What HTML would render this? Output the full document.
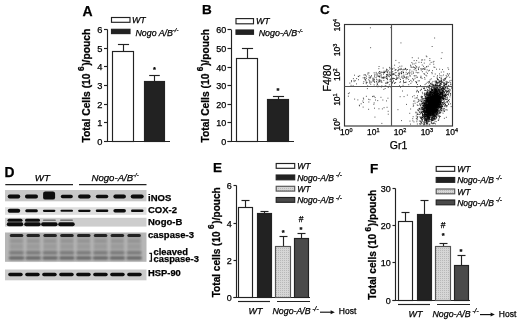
<!DOCTYPE html>
<html><head><meta charset="utf-8"><title>Figure</title>
<style>
html,body{margin:0;padding:0;background:#fff;}
body{width:520px;height:321px;overflow:hidden;}
svg{display:block;filter:blur(0.35px);}
text{font-family:"Liberation Sans",sans-serif;fill:#000;stroke:#000;stroke-width:0.25px;}
line,rect[stroke]{stroke-width:1.15;}
.b{font-weight:bold;}
.i{font-style:italic;}
.ax{stroke:#222;stroke-width:1;fill:none;}
</style></head><body>
<svg width="520" height="321" viewBox="0 0 520 321">
<defs><filter id="bl" x="-10%" y="-30%" width="120%" height="160%"><feGaussianBlur stdDeviation="0.6"/></filter><filter id="bl2" x="-10%" y="-30%" width="120%" height="160%"><feGaussianBlur stdDeviation="1.1"/></filter><pattern id="dots" width="2" height="2" patternUnits="userSpaceOnUse"><rect width="2" height="2" fill="#d6d6d6"/><rect width="1" height="1" fill="#b8b8b8"/></pattern></defs>
<rect width="520" height="321" fill="#fff"/>
<text x="82.5" y="15.5" font-size="14" text-anchor="start" class="b">A</text>
<rect x="111.5" y="17.5" width="18.5" height="4.8" fill="#fff" stroke="#222" stroke-width="1"/>
<rect x="111.5" y="29.3" width="18.5" height="4.3" fill="#222" stroke="#222" stroke-width="1"/>
<text x="132" y="22.9" font-size="8.8" text-anchor="start" class="i">WT</text>
<text x="135.5" y="35.8" font-size="8.8" text-anchor="start" class="i">Nogo A/B<tspan dy="-3.5" font-size="6">-/-</tspan></text>
<line x1="107.5" y1="29.5" x2="107.5" y2="141.5" stroke="#222" stroke-width="1"/>
<line x1="104" y1="141.5" x2="170" y2="141.5" stroke="#222" stroke-width="1"/>
<line x1="104" y1="141.5" x2="107.5" y2="141.5" stroke="#222" stroke-width="1"/>
<text x="102.5" y="145.0" font-size="9.3" text-anchor="end">0</text>
<line x1="104" y1="122.5" x2="107.5" y2="122.5" stroke="#222" stroke-width="1"/>
<text x="102.5" y="126.0" font-size="9.3" text-anchor="end">1</text>
<line x1="104" y1="104.5" x2="107.5" y2="104.5" stroke="#222" stroke-width="1"/>
<text x="102.5" y="108.0" font-size="9.3" text-anchor="end">2</text>
<line x1="104" y1="85.5" x2="107.5" y2="85.5" stroke="#222" stroke-width="1"/>
<text x="102.5" y="89.0" font-size="9.3" text-anchor="end">3</text>
<line x1="104" y1="66.5" x2="107.5" y2="66.5" stroke="#222" stroke-width="1"/>
<text x="102.5" y="70.0" font-size="9.3" text-anchor="end">4</text>
<line x1="104" y1="48.5" x2="107.5" y2="48.5" stroke="#222" stroke-width="1"/>
<text x="102.5" y="52.0" font-size="9.3" text-anchor="end">5</text>
<line x1="104" y1="29.5" x2="107.5" y2="29.5" stroke="#222" stroke-width="1"/>
<text x="102.5" y="33.0" font-size="9.3" text-anchor="end">6</text>
<line x1="123.5" y1="44.5" x2="123.5" y2="51.5" stroke="#222" stroke-width="1"/>
<line x1="117.935" y1="44.5" x2="129.065" y2="44.5" stroke="#222" stroke-width="1"/>
<rect x="112.5" y="51.5" width="21.0" height="90.0" fill="#fff" stroke="#222" stroke-width="1"/>
<line x1="154.5" y1="75.5" x2="154.5" y2="81.5" stroke="#222" stroke-width="1"/>
<line x1="149.2" y1="75.5" x2="159.8" y2="75.5" stroke="#222" stroke-width="1"/>
<rect x="144.5" y="81.5" width="20.0" height="60.0" fill="#222" stroke="#222" stroke-width="1"/>
<text x="154.4" y="72.3" font-size="7.5" text-anchor="middle" class="b">*</text>
<text transform="translate(89.6,142.5) rotate(-90)" font-size="10.3" class="b">Total Cells (10<tspan dx="2.4" dy="-5.5" font-size="8.3">6</tspan><tspan dx="0.6" dy="5.5">)/pouch</tspan></text>
<text x="202" y="14.3" font-size="13.5" text-anchor="start" class="b">B</text>
<rect x="236" y="18.6" width="17.5" height="5.2" fill="#fff" stroke="#222" stroke-width="1"/>
<rect x="236" y="30" width="17.5" height="4.3" fill="#222" stroke="#222" stroke-width="1"/>
<text x="256" y="24.3" font-size="8.8" text-anchor="start" class="i">WT</text>
<text x="258.7" y="36.3" font-size="8.9" text-anchor="start" class="i">Nogo-A/B<tspan dy="-3.5" font-size="6">-/-</tspan></text>
<line x1="231.5" y1="30" x2="231.5" y2="141.5" stroke="#222" stroke-width="1"/>
<line x1="227.5" y1="141.5" x2="294" y2="141.5" stroke="#222" stroke-width="1"/>
<line x1="227.5" y1="141.5" x2="231.5" y2="141.5" stroke="#222" stroke-width="1"/>
<text x="226.3" y="144.9" font-size="9.0" text-anchor="end">0</text>
<line x1="227.5" y1="122.5" x2="231.5" y2="122.5" stroke="#222" stroke-width="1"/>
<text x="226.3" y="125.9" font-size="9.0" text-anchor="end">10</text>
<line x1="227.5" y1="104.5" x2="231.5" y2="104.5" stroke="#222" stroke-width="1"/>
<text x="226.3" y="107.9" font-size="9.0" text-anchor="end">20</text>
<line x1="227.5" y1="85.5" x2="231.5" y2="85.5" stroke="#222" stroke-width="1"/>
<text x="226.3" y="88.9" font-size="9.0" text-anchor="end">30</text>
<line x1="227.5" y1="67.5" x2="231.5" y2="67.5" stroke="#222" stroke-width="1"/>
<text x="226.3" y="70.9" font-size="9.0" text-anchor="end">40</text>
<line x1="227.5" y1="48.5" x2="231.5" y2="48.5" stroke="#222" stroke-width="1"/>
<text x="226.3" y="51.9" font-size="9.0" text-anchor="end">50</text>
<line x1="227.5" y1="29.5" x2="231.5" y2="29.5" stroke="#222" stroke-width="1"/>
<text x="226.3" y="32.9" font-size="9.0" text-anchor="end">60</text>
<line x1="247.5" y1="48.5" x2="247.5" y2="58.5" stroke="#222" stroke-width="1"/>
<line x1="241.935" y1="48.5" x2="253.065" y2="48.5" stroke="#222" stroke-width="1"/>
<rect x="236.5" y="58.5" width="21.0" height="83.0" fill="#fff" stroke="#222" stroke-width="1"/>
<line x1="278.5" y1="96.5" x2="278.5" y2="99.5" stroke="#222" stroke-width="1"/>
<line x1="272.935" y1="96.5" x2="284.065" y2="96.5" stroke="#222" stroke-width="1"/>
<rect x="267.5" y="99.5" width="21.0" height="42.0" fill="#222" stroke="#222" stroke-width="1"/>
<text x="278" y="92.9" font-size="7.5" text-anchor="middle" class="b">*</text>
<text transform="translate(208.5,142.4) rotate(-90)" font-size="10.25" class="b">Total Cells (10<tspan dx="2.4" dy="-5.5" font-size="8.3">6</tspan><tspan dx="0.6" dy="5.5">)/pouch</tspan></text>
<text x="320" y="14.3" font-size="13.5" text-anchor="start" class="b">C</text>
<path d="M430.9 108.0h.9M431.1 102.7h.9M428.1 105.6h.9M436.7 103.1h.9M436.4 102.3h.9M433.7 103.9h.9M425.0 114.6h.9M434.1 105.5h.9M424.9 98.4h.9M428.3 103.9h.9M433.3 102.8h.9M434.2 98.3h.9M433.3 105.5h.9M429.2 116.8h.9M434.3 109.7h.9M429.4 101.3h.9M430.6 104.4h.9M434.7 103.6h.9M430.1 99.4h.9M429.8 113.3h.9M428.6 108.1h.9M433.8 93.3h.9M432.2 112.0h.9M423.5 108.3h.9M431.6 99.2h.9M434.1 102.0h.9M425.8 113.8h.9M434.8 107.8h.9M438.1 101.7h.9M432.5 95.5h.9M434.6 98.2h.9M430.1 97.5h.9M427.9 103.7h.9M437.4 87.2h.9M425.9 110.1h.9M438.1 103.1h.9M424.0 94.2h.9M433.5 98.3h.9M427.3 113.6h.9M436.6 101.5h.9M433.0 105.9h.9M438.7 102.8h.9M434.2 105.8h.9M425.4 117.0h.9M436.0 104.3h.9M423.7 106.3h.9M435.5 90.0h.9M431.2 111.0h.9M426.5 118.2h.9M434.3 101.3h.9M433.4 107.0h.9M432.5 110.8h.9M429.2 103.5h.9M436.4 100.9h.9M428.3 112.7h.9M438.2 96.6h.9M426.2 107.5h.9M431.4 102.6h.9M437.9 93.2h.9M437.3 92.1h.9M428.7 110.4h.9M436.7 105.8h.9M433.4 103.8h.9M432.6 107.1h.9M431.3 106.3h.9M434.4 102.2h.9M435.2 105.1h.9M440.4 99.7h.9M430.2 103.0h.9M431.9 109.8h.9M430.6 107.5h.9M439.7 82.2h.9M427.3 109.1h.9M433.7 104.2h.9M430.2 109.5h.9M433.2 99.8h.9M442.2 98.6h.9M429.7 105.1h.9M431.1 104.3h.9M420.5 109.5h.9M436.2 93.5h.9M431.7 110.2h.9M435.6 110.6h.9M424.9 107.2h.9M430.6 109.0h.9M436.6 83.8h.9M436.6 91.5h.9M434.9 92.5h.9M432.7 110.9h.9M431.4 105.7h.9M435.3 102.4h.9M431.6 113.9h.9M436.4 98.9h.9M443.5 88.2h.9M435.8 99.5h.9M432.6 108.0h.9M432.9 107.3h.9M425.6 99.4h.9M434.6 96.0h.9M427.7 98.0h.9M437.3 104.7h.9M438.2 93.5h.9M432.0 96.9h.9M435.2 111.5h.9M428.3 116.6h.9M436.1 99.8h.9M423.7 119.0h.9M431.6 100.5h.9M433.7 105.3h.9M438.3 92.9h.9M436.8 109.7h.9M438.1 98.3h.9M428.9 112.7h.9M432.5 104.4h.9M438.0 97.9h.9M422.4 108.8h.9M424.2 115.0h.9M433.3 99.2h.9M432.0 109.2h.9M432.3 112.0h.9M431.7 110.7h.9M438.3 109.4h.9M429.2 111.6h.9M424.1 103.1h.9M423.8 116.9h.9M426.8 107.8h.9M431.2 104.4h.9M429.5 107.3h.9M439.5 98.6h.9M434.2 108.6h.9M431.2 96.7h.9M429.7 112.5h.9M425.1 105.4h.9M436.2 105.8h.9M432.0 109.0h.9M432.7 96.1h.9M425.4 104.9h.9M435.9 97.6h.9M428.2 102.0h.9M425.6 108.1h.9M427.0 110.0h.9M422.1 113.5h.9M429.3 93.9h.9M435.0 100.0h.9M422.6 105.6h.9M433.2 100.2h.9M435.3 106.2h.9M434.8 103.9h.9M437.6 103.9h.9M433.9 89.6h.9M435.8 109.4h.9M430.8 102.0h.9M440.1 86.9h.9M434.0 117.7h.9M428.1 111.2h.9M439.9 97.3h.9M434.4 107.9h.9M428.2 106.3h.9M433.2 108.2h.9M431.9 102.9h.9M427.7 105.0h.9M435.7 101.8h.9M428.4 101.4h.9M443.2 102.7h.9M434.7 85.8h.9M434.6 105.0h.9M439.1 101.4h.9M431.7 107.5h.9M423.8 116.6h.9M433.4 98.6h.9M437.6 111.1h.9M426.1 104.3h.9M433.2 104.2h.9M430.3 99.2h.9M440.9 103.8h.9M427.0 99.4h.9M439.2 104.8h.9M439.6 103.3h.9M428.3 108.4h.9M422.9 106.1h.9M431.8 107.5h.9M428.9 105.5h.9M433.9 104.9h.9M434.7 103.3h.9M430.6 110.0h.9M432.2 98.7h.9M429.4 106.0h.9M431.5 105.3h.9M432.0 105.1h.9M431.4 96.6h.9M433.8 109.3h.9M433.8 101.4h.9M433.9 96.6h.9M424.0 110.3h.9M428.1 111.6h.9M427.4 91.0h.9M427.6 117.1h.9M430.4 96.6h.9M428.8 109.7h.9M434.1 103.5h.9M438.2 103.7h.9M431.9 107.8h.9M438.9 104.9h.9M436.3 94.0h.9M431.4 109.0h.9M430.8 111.6h.9M434.5 107.8h.9M431.1 120.6h.9M437.2 98.7h.9M432.4 119.9h.9M430.6 110.5h.9M436.1 101.0h.9M427.1 108.8h.9M433.5 109.9h.9M435.3 101.7h.9M435.6 104.7h.9M432.9 103.7h.9M431.0 109.1h.9M427.6 103.4h.9M432.0 94.8h.9M430.2 92.8h.9M429.1 109.7h.9M434.4 101.9h.9M431.0 95.9h.9M439.7 101.5h.9M436.6 95.0h.9M431.2 93.2h.9M435.3 107.4h.9M424.0 109.7h.9M434.6 91.0h.9M424.3 103.1h.9M429.4 97.2h.9M432.1 105.5h.9M434.7 106.4h.9M438.3 106.5h.9M426.5 105.0h.9M427.5 100.6h.9M431.7 104.3h.9M434.1 92.5h.9M426.8 107.8h.9M431.2 102.7h.9M431.7 99.4h.9M434.9 104.0h.9M431.6 100.1h.9M431.3 87.5h.9M427.9 107.3h.9M425.7 110.0h.9M432.6 94.9h.9M430.9 102.8h.9M433.9 106.4h.9M431.8 98.8h.9M431.4 104.0h.9M435.1 103.5h.9M429.0 97.8h.9M430.4 100.5h.9M427.3 106.8h.9M429.9 106.2h.9M434.2 99.8h.9M441.8 94.7h.9M436.6 101.3h.9M436.7 85.6h.9M428.8 107.9h.9M434.5 116.7h.9M433.4 111.0h.9M435.2 107.5h.9M434.1 101.4h.9M434.1 95.7h.9M437.0 93.9h.9M433.0 116.5h.9M431.1 104.8h.9M436.9 100.5h.9M428.6 108.2h.9M434.4 106.6h.9M428.8 117.4h.9M439.0 98.9h.9M433.1 100.5h.9M437.9 95.1h.9M434.8 98.9h.9M429.1 110.7h.9M437.6 99.7h.9M429.2 111.2h.9M431.8 106.1h.9M438.4 106.3h.9M429.8 119.9h.9M432.0 108.9h.9M429.3 105.8h.9M424.7 120.7h.9M437.7 92.1h.9M425.7 98.6h.9M436.9 97.4h.9M431.7 102.2h.9M431.5 97.6h.9M432.1 94.9h.9M431.7 106.2h.9M434.0 101.1h.9M428.2 107.8h.9M430.0 115.3h.9M435.2 100.9h.9M430.0 101.1h.9M428.1 104.7h.9M433.2 106.3h.9M434.4 115.3h.9M429.0 106.3h.9M443.7 83.5h.9M429.8 106.7h.9M432.6 106.1h.9M431.0 107.0h.9M432.2 108.7h.9M424.1 104.4h.9M432.0 97.6h.9M427.6 111.2h.9M429.3 110.0h.9M435.1 103.6h.9M434.1 101.7h.9M426.1 108.3h.9M433.9 99.3h.9M431.6 109.0h.9M428.3 110.8h.9M439.8 94.7h.9M432.6 102.6h.9M438.5 101.1h.9M435.8 96.9h.9M431.9 104.0h.9M424.5 118.6h.9M435.8 90.2h.9M435.1 100.8h.9M433.9 104.9h.9M425.7 107.4h.9M438.3 95.7h.9M427.7 98.7h.9M426.9 109.9h.9M439.1 101.4h.9M433.0 117.2h.9M429.8 101.4h.9M434.2 105.8h.9M427.7 99.9h.9M433.2 104.6h.9M426.5 106.9h.9M429.7 108.6h.9M431.5 103.8h.9M430.5 111.7h.9M437.8 97.3h.9M435.6 96.6h.9M432.3 108.5h.9M438.4 96.8h.9M431.7 105.5h.9M425.7 108.8h.9M429.2 108.5h.9M427.3 95.2h.9M432.2 105.5h.9M429.7 111.3h.9M430.9 101.1h.9M434.0 92.7h.9M429.2 106.0h.9M435.6 100.3h.9M433.3 98.9h.9M433.3 113.4h.9M429.1 121.0h.9M429.3 106.1h.9M432.7 109.9h.9M426.8 94.8h.9M434.5 107.1h.9M434.6 118.5h.9M432.9 104.9h.9M435.9 103.4h.9M439.0 91.0h.9M430.4 83.6h.9M435.4 99.1h.9M435.9 114.6h.9M432.0 102.4h.9M429.9 100.3h.9M429.4 110.0h.9M432.2 104.3h.9M431.3 110.3h.9M434.1 101.6h.9M434.8 101.0h.9M427.2 116.7h.9M434.0 96.6h.9M436.5 102.8h.9M425.4 119.0h.9M433.4 108.5h.9M432.8 102.4h.9M425.5 115.0h.9M432.1 102.1h.9M433.5 103.4h.9M434.8 99.6h.9M431.8 90.7h.9M430.2 109.6h.9M437.6 97.5h.9M431.5 114.3h.9M430.6 109.6h.9M439.0 99.0h.9M437.2 95.7h.9M432.9 102.9h.9M432.5 110.7h.9M442.0 92.3h.9M429.6 108.9h.9M427.6 110.4h.9M434.4 100.5h.9M434.2 92.6h.9M435.2 91.9h.9M429.1 102.7h.9M430.3 110.6h.9M432.3 101.3h.9M434.3 112.2h.9M432.0 106.3h.9M437.2 101.8h.9M426.6 123.6h.9M441.3 84.6h.9M431.8 106.7h.9M436.1 105.1h.9M430.9 98.3h.9M432.4 110.1h.9M427.4 101.0h.9M431.9 92.0h.9M430.9 102.1h.9M433.9 98.2h.9M428.3 104.3h.9M431.8 100.0h.9M432.1 108.7h.9M437.0 110.9h.9M428.7 103.8h.9M421.6 123.7h.9M429.0 106.1h.9M434.2 93.9h.9M433.9 102.4h.9M424.3 111.6h.9M437.0 88.6h.9M435.4 102.8h.9M434.0 105.3h.9M437.5 98.5h.9M435.7 98.7h.9M435.1 96.6h.9M431.5 115.2h.9M433.9 101.6h.9M427.2 102.7h.9M432.8 109.3h.9M433.8 105.9h.9M431.8 112.6h.9M430.4 101.8h.9M435.7 101.6h.9M430.8 101.3h.9M430.9 108.7h.9M433.5 95.3h.9M433.8 103.8h.9M427.8 112.0h.9M430.8 102.8h.9M435.3 109.7h.9M429.1 108.9h.9M428.3 121.2h.9M429.9 113.0h.9M429.3 111.1h.9M441.3 81.1h.9M430.2 108.5h.9M431.6 100.1h.9M441.0 97.7h.9M425.1 114.5h.9M424.8 116.6h.9M429.6 106.7h.9M437.3 100.8h.9M426.2 97.8h.9M437.0 104.9h.9M428.6 111.9h.9M434.1 106.5h.9M422.5 109.2h.9M435.8 105.7h.9M435.7 85.9h.9M432.7 106.5h.9M442.7 90.0h.9M430.6 105.3h.9M435.7 98.4h.9M436.8 95.5h.9M433.1 99.9h.9M432.7 99.2h.9M425.3 115.9h.9M433.3 99.6h.9M432.8 109.6h.9M427.9 106.4h.9M434.3 105.6h.9M430.6 91.9h.9M437.2 102.1h.9M432.1 102.2h.9M433.1 100.5h.9M427.7 102.6h.9M429.5 102.1h.9M427.1 111.6h.9M426.5 112.2h.9M427.7 109.4h.9M437.8 100.9h.9M428.9 106.6h.9M432.6 92.7h.9M429.4 106.9h.9M430.0 106.0h.9M435.1 106.5h.9M435.8 104.8h.9M430.8 104.8h.9M430.9 102.9h.9M431.2 93.8h.9M430.6 104.9h.9M427.9 106.9h.9M434.2 101.3h.9M440.7 81.2h.9M431.1 93.2h.9M436.1 117.5h.9M421.5 112.7h.9M434.2 100.5h.9M434.3 88.2h.9M435.6 103.6h.9M432.1 100.3h.9M434.7 99.0h.9M432.9 100.1h.9M422.6 110.9h.9M432.8 108.1h.9M428.3 106.6h.9M434.6 103.0h.9M437.2 112.5h.9M428.2 94.9h.9M435.6 110.9h.9M435.9 106.2h.9M429.4 101.5h.9M435.7 95.5h.9M424.4 103.5h.9M442.5 108.2h.9M429.1 101.6h.9M433.0 98.6h.9M437.5 99.4h.9M427.4 115.6h.9M429.6 107.2h.9M431.9 102.1h.9M433.4 98.6h.9M424.3 96.0h.9M426.7 103.2h.9M431.9 104.4h.9M434.3 103.0h.9M428.7 102.1h.9M423.1 109.6h.9M434.0 105.8h.9M431.5 103.3h.9M435.9 101.1h.9M435.1 105.3h.9M432.9 111.5h.9M429.6 103.6h.9M428.6 101.6h.9M438.5 110.1h.9M432.1 107.5h.9M436.9 105.3h.9M437.1 92.3h.9M429.3 108.8h.9M438.0 100.1h.9M428.4 104.5h.9M429.2 100.7h.9M438.3 95.4h.9M432.1 117.5h.9M437.0 102.4h.9M429.4 108.5h.9M438.8 102.8h.9M437.3 100.6h.9M434.2 101.1h.9M433.8 110.8h.9M426.0 108.1h.9M433.0 99.7h.9M430.7 109.9h.9M440.4 101.6h.9M433.4 93.3h.9M440.1 98.4h.9M431.9 97.1h.9M431.8 97.3h.9M432.3 106.7h.9M432.1 105.6h.9M428.4 115.6h.9M429.3 94.7h.9M431.2 99.8h.9M427.8 105.0h.9M433.2 95.7h.9M431.4 113.4h.9M434.9 100.9h.9M432.5 102.8h.9M431.8 108.7h.9M431.6 89.3h.9M431.9 98.5h.9M434.7 98.1h.9M432.6 117.1h.9M427.6 100.3h.9M426.1 93.5h.9M424.1 112.2h.9M429.3 94.3h.9M425.8 112.5h.9M428.7 104.1h.9M433.4 111.4h.9M440.2 104.3h.9M432.6 104.7h.9M439.6 107.3h.9M430.7 107.8h.9M433.2 103.4h.9M429.9 97.3h.9M429.8 96.0h.9M437.1 103.5h.9M426.9 116.5h.9M435.7 89.3h.9M439.7 103.3h.9M440.7 89.8h.9M434.2 105.0h.9M432.8 104.4h.9M436.4 91.3h.9M426.8 99.2h.9M429.7 102.0h.9M433.5 104.5h.9M432.1 99.7h.9M430.1 111.3h.9M435.2 102.2h.9M430.6 114.7h.9M429.5 109.9h.9M436.8 98.7h.9M435.5 94.4h.9M436.3 102.1h.9M425.3 113.2h.9M428.3 114.8h.9M429.1 105.1h.9M433.2 101.0h.9M433.1 99.7h.9M434.8 101.9h.9M432.9 86.1h.9M436.9 100.5h.9M424.5 110.2h.9M434.0 109.2h.9M427.5 117.1h.9M431.3 119.5h.9M431.4 108.7h.9M430.5 98.2h.9M436.6 106.2h.9M438.5 104.5h.9M429.6 95.4h.9M429.3 101.8h.9M428.6 110.2h.9M433.4 101.3h.9M432.7 102.5h.9M432.9 108.0h.9M436.0 96.7h.9M425.7 117.7h.9M432.5 110.6h.9M425.1 107.1h.9M432.1 94.9h.9M429.8 110.2h.9M436.5 110.6h.9M428.4 98.0h.9M434.2 108.2h.9M432.8 95.3h.9M435.3 106.5h.9M434.3 99.2h.9M433.3 108.0h.9M429.7 94.2h.9M433.4 106.0h.9M432.1 109.5h.9M429.5 105.3h.9M430.7 108.5h.9M438.7 97.4h.9M440.6 107.1h.9M435.3 105.2h.9M439.4 97.3h.9M431.5 97.7h.9M434.0 110.9h.9M434.2 105.0h.9M431.2 105.7h.9M426.0 115.0h.9M430.3 98.4h.9M428.8 101.2h.9M435.6 107.9h.9M426.3 114.1h.9M435.7 97.6h.9M425.8 104.0h.9M429.3 108.1h.9M430.5 92.4h.9M433.0 93.7h.9M435.8 93.6h.9M429.1 100.8h.9M429.7 113.8h.9M435.6 105.1h.9M433.3 93.3h.9M429.8 102.2h.9M427.9 110.3h.9M428.9 101.9h.9M427.6 94.4h.9M434.5 110.4h.9M432.7 97.3h.9M420.6 113.6h.9M437.1 102.0h.9M435.9 110.3h.9M436.7 97.7h.9M436.4 105.5h.9M425.5 106.3h.9M426.0 107.8h.9M434.4 95.5h.9M423.4 118.6h.9M433.6 112.0h.9M426.4 114.8h.9M440.7 110.0h.9M431.1 106.3h.9M431.4 110.7h.9M436.4 101.3h.9M426.3 112.9h.9M430.0 109.4h.9M433.1 113.3h.9M436.8 97.6h.9M433.5 113.9h.9M429.7 108.4h.9M437.0 108.1h.9M434.2 94.1h.9M426.7 109.5h.9M433.6 118.7h.9M428.4 113.8h.9M435.2 91.1h.9M428.6 107.6h.9M429.9 104.6h.9M434.0 97.5h.9M434.0 98.6h.9M429.7 109.1h.9M429.6 107.6h.9M438.7 99.1h.9M431.4 109.1h.9M430.5 111.9h.9M426.6 111.9h.9M429.8 100.6h.9M439.4 93.1h.9M439.4 102.6h.9M438.1 93.3h.9M437.0 109.3h.9M431.5 103.6h.9M442.3 97.4h.9M430.2 101.4h.9M433.9 104.7h.9M432.7 114.2h.9M430.6 108.0h.9M438.1 93.1h.9M436.4 112.2h.9M426.3 101.4h.9M427.6 95.7h.9M433.9 91.0h.9M434.1 111.5h.9M425.2 107.1h.9M423.9 114.9h.9M428.9 104.7h.9M432.2 107.2h.9M430.5 105.2h.9M429.7 106.4h.9M427.1 108.1h.9M423.9 107.0h.9M440.0 98.5h.9M426.7 109.6h.9M427.9 96.7h.9M428.9 110.9h.9M433.6 102.2h.9M428.1 100.2h.9M437.7 101.3h.9M428.0 93.8h.9M426.2 123.8h.9M427.2 107.1h.9M432.9 102.4h.9M430.8 96.3h.9M427.6 117.9h.9M428.8 111.7h.9M424.9 107.6h.9M433.1 109.7h.9M427.3 111.3h.9M433.6 98.2h.9M434.0 96.9h.9M428.7 106.4h.9M420.6 111.9h.9M427.8 98.0h.9M430.2 110.1h.9M430.3 113.2h.9M427.1 99.4h.9M438.5 101.6h.9M436.0 95.9h.9M435.4 103.1h.9M434.7 102.1h.9M437.1 96.1h.9M428.0 97.8h.9M436.9 95.7h.9M427.6 101.4h.9M430.1 97.5h.9M430.8 101.0h.9M429.7 99.7h.9M432.2 101.0h.9M432.5 105.2h.9M433.4 89.2h.9M429.8 100.7h.9M435.3 91.7h.9M429.0 104.4h.9M430.6 111.3h.9M430.1 111.4h.9M425.8 97.3h.9M437.1 102.9h.9M434.0 103.2h.9M434.0 94.9h.9M436.0 97.7h.9M436.1 101.4h.9M423.7 102.2h.9M436.7 99.6h.9M430.3 106.8h.9M430.2 101.9h.9M432.4 104.6h.9M438.4 99.5h.9M439.9 109.3h.9M439.2 105.2h.9M432.5 104.4h.9M431.4 99.9h.9M431.7 100.2h.9M438.9 102.2h.9M430.1 93.4h.9M431.8 101.6h.9M427.4 100.3h.9M422.5 114.6h.9M431.7 120.3h.9M431.9 103.2h.9M438.1 100.3h.9M432.7 101.2h.9M429.5 115.3h.9M436.2 111.6h.9M430.5 105.3h.9M428.3 112.8h.9M426.1 111.9h.9M436.6 109.4h.9M428.1 113.8h.9M429.0 101.5h.9M426.4 115.4h.9M438.9 95.1h.9M428.8 104.3h.9M442.5 102.4h.9M429.7 94.5h.9M429.2 113.5h.9M439.8 96.5h.9M429.1 103.0h.9M424.1 115.6h.9M427.4 114.1h.9M424.8 101.4h.9M433.2 98.3h.9M435.3 101.6h.9M427.1 111.6h.9M435.5 89.4h.9M439.7 101.4h.9M435.2 90.0h.9M429.0 104.1h.9M436.5 91.5h.9M428.3 94.1h.9M431.0 106.9h.9M424.9 105.6h.9M434.1 112.3h.9M434.8 100.0h.9M427.1 101.9h.9M429.2 107.0h.9M431.8 114.6h.9M433.2 96.4h.9M438.5 105.1h.9M432.4 99.2h.9M424.1 103.5h.9M435.8 96.1h.9M426.5 109.4h.9M433.0 107.0h.9M434.8 110.7h.9M428.5 112.8h.9M427.9 111.4h.9M432.8 105.0h.9M436.1 100.8h.9M436.7 106.0h.9M432.6 100.0h.9M428.8 103.1h.9M431.2 104.5h.9M444.5 98.6h.9M435.2 96.2h.9M429.0 104.2h.9M432.8 96.9h.9M438.8 95.4h.9M436.5 86.0h.9M432.0 105.8h.9M432.8 107.2h.9M433.2 104.1h.9M424.1 105.5h.9M422.2 115.3h.9M433.3 101.8h.9M428.6 103.0h.9M439.8 109.0h.9M431.8 112.2h.9M425.3 96.9h.9M430.0 100.1h.9M429.7 106.9h.9M444.7 90.3h.9M432.2 105.6h.9M431.9 109.9h.9M439.5 90.6h.9M432.7 101.8h.9M433.5 93.3h.9M424.6 95.1h.9M434.2 103.5h.9M432.3 89.0h.9M430.4 100.5h.9M426.1 102.7h.9M434.9 105.2h.9M431.9 107.3h.9M429.5 106.3h.9M432.2 107.3h.9M431.7 103.3h.9M431.4 100.4h.9M441.4 100.2h.9M433.8 117.0h.9M437.9 89.9h.9M434.9 107.0h.9M439.9 106.3h.9M435.2 94.2h.9M428.3 108.4h.9M434.1 96.0h.9M430.4 102.7h.9M432.3 105.9h.9M430.8 97.2h.9M437.2 110.1h.9M431.6 110.7h.9M433.9 106.7h.9M434.0 97.7h.9M434.4 108.5h.9M428.2 119.1h.9M440.8 108.8h.9M440.4 102.4h.9M430.6 101.3h.9M428.6 107.3h.9M431.9 108.3h.9M423.5 124.8h.9M441.6 96.7h.9M434.8 104.8h.9M433.1 101.8h.9M431.5 99.2h.9M432.7 103.3h.9M433.3 97.6h.9M432.2 104.2h.9M434.5 95.5h.9M433.8 108.8h.9M434.5 99.8h.9M429.9 104.1h.9M435.1 111.4h.9M431.3 100.5h.9M433.6 104.1h.9M428.2 102.3h.9M431.6 108.5h.9M427.0 101.4h.9M434.1 94.8h.9M432.5 105.9h.9M431.5 98.0h.9M431.7 102.1h.9M433.4 97.7h.9M436.6 90.1h.9M431.3 104.6h.9M436.0 97.2h.9M434.3 98.7h.9M435.1 112.5h.9M430.3 108.0h.9M428.1 113.0h.9M437.1 100.4h.9M427.2 110.1h.9M436.8 107.2h.9M435.4 90.0h.9M429.1 115.0h.9M426.9 114.9h.9M439.9 102.8h.9M436.7 98.4h.9M426.9 107.2h.9M431.2 104.3h.9M434.9 100.9h.9M432.8 106.0h.9M432.0 115.5h.9M433.9 103.1h.9M431.1 100.7h.9M437.6 100.7h.9M427.5 103.9h.9M431.4 101.6h.9M436.6 93.3h.9M434.1 103.3h.9M427.1 108.0h.9M431.6 107.4h.9M430.1 107.3h.9M425.0 102.5h.9M435.3 108.0h.9M431.9 100.3h.9M436.5 87.5h.9M428.6 110.7h.9M434.7 95.5h.9M424.1 119.0h.9M432.6 97.9h.9M432.2 109.5h.9M421.1 119.1h.9M435.1 88.7h.9M435.2 90.4h.9M436.8 102.9h.9M441.5 93.1h.9M432.0 110.5h.9M429.3 101.6h.9M430.4 104.7h.9M427.5 110.4h.9M434.3 102.7h.9M439.1 96.6h.9M437.5 96.5h.9M435.2 89.5h.9M432.8 102.3h.9M429.9 101.7h.9M430.5 100.6h.9M422.8 107.2h.9M429.7 102.5h.9M427.6 106.5h.9M435.3 100.0h.9M429.9 114.0h.9M436.1 106.7h.9M436.9 98.3h.9M431.5 111.4h.9M429.7 105.0h.9M433.6 105.1h.9M430.8 111.0h.9M431.3 109.1h.9M436.5 104.7h.9M435.1 94.4h.9M426.5 104.3h.9M434.0 111.9h.9M426.9 109.8h.9M428.4 102.1h.9M430.8 109.2h.9M432.9 110.7h.9M427.9 112.7h.9M435.9 101.5h.9M434.0 99.0h.9M427.4 104.9h.9M429.3 124.1h.9M430.0 115.8h.9M432.8 105.3h.9M435.1 96.8h.9M435.8 103.5h.9M425.6 112.5h.9M434.3 105.1h.9M438.7 96.4h.9M434.1 107.1h.9M428.2 114.3h.9M425.9 100.4h.9M434.2 95.5h.9M431.5 94.1h.9M432.3 96.7h.9M433.4 93.3h.9M433.9 100.9h.9M432.3 103.4h.9M432.5 95.3h.9M421.2 112.3h.9M428.1 104.1h.9M433.8 90.2h.9M428.8 102.6h.9M427.6 109.4h.9M431.4 99.3h.9M427.9 112.1h.9M429.2 109.7h.9M433.9 90.7h.9M427.4 107.4h.9M433.4 107.8h.9M435.4 107.9h.9M430.4 103.9h.9M435.3 98.9h.9M436.4 90.7h.9M434.7 100.9h.9M423.7 116.3h.9M433.3 103.2h.9M427.5 104.5h.9M438.3 94.1h.9M417.4 109.6h.9M427.0 107.0h.9M430.3 99.5h.9M428.5 113.2h.9M425.9 120.8h.9M429.7 98.9h.9M435.3 105.0h.9M427.6 112.0h.9M424.3 104.0h.9M436.7 98.9h.9M426.5 111.3h.9M435.9 101.0h.9M424.4 107.5h.9M433.8 107.5h.9M439.8 96.6h.9M430.0 105.3h.9M437.1 94.3h.9M437.5 82.7h.9M435.3 97.3h.9M433.9 106.9h.9M427.0 107.2h.9M433.0 106.9h.9M428.1 100.7h.9M431.2 103.2h.9M425.7 114.5h.9M429.8 114.7h.9M435.6 101.4h.9M435.1 94.8h.9M430.6 101.4h.9M426.7 108.1h.9M431.4 113.4h.9M417.9 110.4h.9M428.1 104.0h.9M433.8 105.2h.9M432.1 100.9h.9M434.1 104.7h.9M424.3 108.2h.9M426.2 100.9h.9M432.6 103.9h.9M432.5 98.2h.9M431.2 98.9h.9M433.6 107.1h.9M439.4 106.4h.9M428.6 103.7h.9M428.1 108.9h.9M440.3 102.2h.9M422.8 103.1h.9M426.6 111.3h.9M432.0 105.9h.9M439.5 93.2h.9M428.4 119.0h.9M433.4 98.1h.9M423.5 100.9h.9M421.7 112.1h.9M432.2 110.1h.9M431.4 100.1h.9M428.9 118.2h.9M424.6 110.6h.9M432.1 107.8h.9M430.3 108.4h.9M435.4 100.5h.9M430.1 104.3h.9M427.9 105.7h.9M430.7 106.3h.9M437.6 108.0h.9M430.1 109.2h.9M433.2 107.8h.9M432.1 105.6h.9M430.0 100.6h.9M435.7 109.4h.9M434.8 104.6h.9M433.1 100.3h.9M424.5 113.8h.9M432.8 99.9h.9M427.9 115.0h.9M424.4 120.7h.9M434.7 116.8h.9M429.0 106.1h.9M429.9 106.6h.9M431.1 100.0h.9M436.5 95.7h.9M429.9 109.1h.9M429.7 103.0h.9M433.5 100.6h.9M426.8 107.3h.9M431.1 115.3h.9M427.4 113.5h.9M428.7 104.3h.9M430.6 106.7h.9M435.6 112.2h.9M429.3 114.3h.9M436.2 105.9h.9M428.8 112.0h.9M431.5 106.5h.9M430.9 109.0h.9M436.7 107.6h.9M431.1 110.9h.9M438.1 93.6h.9M438.2 91.0h.9M434.3 106.0h.9M438.2 101.1h.9M430.0 100.5h.9M426.7 112.7h.9M431.0 100.3h.9M434.2 97.5h.9M430.2 102.5h.9M438.9 107.9h.9M431.3 94.7h.9M433.2 103.6h.9M433.5 106.4h.9M430.7 110.8h.9M435.5 102.7h.9M430.3 102.3h.9M434.9 94.9h.9M431.3 99.8h.9M426.1 112.2h.9M431.9 104.3h.9M435.7 91.9h.9M431.7 106.0h.9M435.5 94.6h.9M435.0 103.1h.9M437.7 106.8h.9M434.3 115.7h.9M432.0 101.4h.9M430.6 99.2h.9M431.9 92.3h.9M431.6 106.9h.9M436.2 98.7h.9M437.8 95.6h.9M431.4 92.7h.9M428.8 101.5h.9M438.1 102.6h.9M427.5 110.7h.9M434.0 101.1h.9M432.1 102.1h.9M429.8 94.8h.9M431.6 112.1h.9M437.9 97.9h.9M428.9 105.0h.9M435.7 103.4h.9M429.6 108.0h.9M431.2 107.8h.9M430.3 96.3h.9M432.2 108.5h.9M427.5 106.7h.9M435.6 99.0h.9M429.3 118.4h.9M435.4 107.7h.9M428.1 116.8h.9M425.2 105.9h.9M435.0 109.8h.9M428.2 102.8h.9M432.8 91.7h.9M434.6 105.4h.9M430.2 108.6h.9M435.2 103.5h.9M434.1 111.6h.9M430.1 106.4h.9M429.9 111.9h.9M430.3 108.1h.9M432.6 104.0h.9M439.0 98.2h.9M437.8 104.7h.9M437.4 99.0h.9M435.8 105.7h.9M429.5 107.5h.9M431.5 104.2h.9M437.3 95.7h.9M425.2 98.6h.9M430.2 101.5h.9M432.1 107.4h.9M439.1 100.5h.9M433.9 98.2h.9M434.4 110.4h.9M437.4 88.1h.9M435.6 110.8h.9M435.3 92.5h.9M430.8 108.5h.9M433.7 97.9h.9M428.4 112.5h.9M426.6 116.7h.9M432.1 105.7h.9M426.6 104.5h.9M434.8 93.1h.9M440.4 89.3h.9M427.1 108.0h.9M433.9 106.9h.9M430.5 103.9h.9M431.0 101.3h.9M421.6 117.6h.9M433.0 104.2h.9M429.5 107.4h.9M431.9 103.6h.9M436.5 90.3h.9M433.0 96.8h.9M430.7 114.0h.9M427.6 106.7h.9M429.6 111.5h.9M428.0 96.9h.9M434.1 100.3h.9M430.7 111.5h.9M428.4 104.4h.9M432.6 106.0h.9M429.9 111.8h.9M441.0 94.8h.9M439.5 85.7h.9M437.7 97.7h.9M432.6 101.5h.9M429.4 98.3h.9M430.4 113.0h.9M436.6 98.5h.9M429.9 101.4h.9M427.2 118.5h.9M434.7 102.7h.9M430.0 99.4h.9M437.3 104.7h.9M428.2 112.8h.9M427.5 111.2h.9M428.1 104.4h.9M434.0 105.1h.9M436.1 95.9h.9M438.4 107.3h.9M432.0 106.8h.9M428.9 105.4h.9M426.7 108.5h.9M432.8 111.5h.9M435.8 106.0h.9M430.5 103.7h.9M430.6 106.4h.9M424.2 114.5h.9M425.7 105.6h.9M432.1 100.9h.9M438.7 98.4h.9M438.3 106.3h.9M430.0 107.9h.9M437.2 98.1h.9M432.4 100.4h.9M432.2 101.7h.9M432.3 109.8h.9M437.6 100.6h.9M432.8 108.5h.9M430.8 98.5h.9M436.5 95.0h.9M435.8 95.4h.9M439.4 92.2h.9M435.4 110.4h.9M428.1 115.8h.9M428.7 95.9h.9M434.9 106.0h.9M431.2 89.5h.9M431.8 102.3h.9M430.5 103.4h.9M424.8 106.0h.9M439.3 107.8h.9M430.5 100.8h.9M433.6 109.2h.9M434.9 94.8h.9M432.7 104.4h.9M437.8 106.8h.9M434.1 109.7h.9M430.4 114.4h.9M430.3 107.7h.9M435.7 95.7h.9M429.2 95.6h.9M432.7 103.2h.9M430.7 108.0h.9M423.5 110.3h.9M432.4 102.1h.9M435.2 112.1h.9M430.2 99.7h.9M429.6 106.4h.9M434.4 97.1h.9M436.0 94.8h.9M435.3 104.1h.9M433.9 115.5h.9M430.9 103.8h.9M433.9 107.7h.9M426.6 109.7h.9M429.0 110.0h.9M437.5 100.2h.9M431.6 105.4h.9M420.1 117.6h.9M434.3 103.3h.9M430.4 100.8h.9M431.3 111.8h.9M431.6 112.4h.9M421.6 109.0h.9M433.1 103.1h.9M425.3 105.0h.9M437.0 92.5h.9M428.0 100.4h.9M429.8 109.5h.9M434.4 90.0h.9M437.9 96.0h.9M429.6 115.8h.9M431.7 96.8h.9M429.4 101.6h.9M427.9 105.1h.9M435.5 103.4h.9M426.4 124.9h.9M428.0 107.7h.9M432.1 108.5h.9M430.7 107.7h.9M440.5 98.2h.9M427.6 109.2h.9M428.8 104.2h.9M432.8 105.5h.9M430.9 110.0h.9M431.2 96.8h.9M435.5 99.2h.9M436.9 96.4h.9M434.3 104.2h.9M421.1 103.2h.9M427.5 115.8h.9M424.4 115.2h.9M436.4 103.7h.9M434.7 99.0h.9M432.0 105.4h.9M433.7 107.0h.9M431.2 100.4h.9M429.7 108.2h.9M425.3 101.5h.9M430.3 101.9h.9M430.9 88.8h.9M430.6 103.5h.9M435.1 89.8h.9M430.8 107.8h.9M434.0 109.7h.9M436.3 94.5h.9M434.6 100.1h.9M428.8 115.6h.9M429.5 100.8h.9M430.4 100.1h.9M436.1 103.2h.9M437.7 102.2h.9M429.5 112.2h.9M429.4 103.2h.9M431.3 104.7h.9M436.8 96.7h.9M433.4 102.8h.9M426.9 101.2h.9M431.1 107.1h.9M433.3 105.9h.9M432.2 101.2h.9M433.7 96.7h.9M426.6 106.1h.9M426.2 105.2h.9M429.0 102.9h.9M431.8 99.3h.9M430.3 95.0h.9M432.6 98.3h.9M433.6 85.7h.9M428.8 107.9h.9M422.1 109.2h.9M432.4 104.3h.9M425.9 109.9h.9M432.6 97.7h.9M435.0 101.4h.9M432.1 101.2h.9M434.2 102.9h.9M436.6 103.3h.9M429.5 104.5h.9M435.7 99.0h.9M433.6 106.0h.9M431.3 90.5h.9M432.5 104.9h.9M432.6 99.0h.9M436.9 99.5h.9M429.5 101.6h.9M433.5 96.3h.9M427.9 119.1h.9M437.3 106.4h.9M437.5 103.4h.9M425.2 116.4h.9M437.0 103.2h.9M424.0 117.5h.9M437.6 96.9h.9M432.5 108.3h.9M431.7 110.9h.9M432.3 107.9h.9M432.3 94.8h.9M433.1 111.1h.9M436.6 110.9h.9M434.3 98.7h.9M432.1 92.3h.9M431.2 110.1h.9M423.2 111.8h.9M435.4 109.5h.9M428.2 102.9h.9M424.4 103.6h.9M434.2 114.9h.9M427.3 115.9h.9M433.7 99.7h.9M440.9 82.0h.9M431.7 105.5h.9M440.7 108.4h.9M441.2 97.9h.9M436.0 109.3h.9M434.1 104.6h.9M431.3 102.1h.9M427.0 119.6h.9M430.2 92.7h.9M433.1 103.0h.9M432.7 114.5h.9M431.6 102.7h.9M429.0 106.1h.9M430.2 106.6h.9M444.8 96.8h.9M428.5 118.4h.9M435.5 106.3h.9M434.9 106.8h.9M434.8 110.5h.9M436.1 109.1h.9M429.9 105.5h.9M429.0 112.1h.9M435.4 98.6h.9M434.4 118.2h.9M437.1 93.4h.9M431.6 108.1h.9M431.9 106.5h.9M436.8 102.4h.9M427.5 111.7h.9M431.6 105.0h.9M429.7 97.3h.9M426.9 105.7h.9M427.6 90.8h.9M436.7 93.4h.9M429.0 109.5h.9M422.1 119.6h.9M428.9 110.4h.9M430.0 107.3h.9M432.4 103.7h.9M424.5 100.7h.9M431.8 112.7h.9M429.8 108.9h.9M432.7 106.4h.9M436.1 91.8h.9M433.1 102.1h.9M430.7 99.8h.9M428.8 100.1h.9M427.5 122.7h.9M439.0 98.8h.9M435.0 95.8h.9M420.6 101.4h.9M432.6 112.3h.9M431.8 98.0h.9M431.0 98.7h.9M426.3 106.9h.9M430.4 100.3h.9M428.4 101.1h.9M433.0 111.8h.9M431.1 118.3h.9M425.4 110.6h.9M427.3 106.6h.9M432.4 107.1h.9M436.6 97.2h.9M426.9 106.7h.9M433.2 98.8h.9M435.7 111.5h.9M426.2 110.6h.9M436.2 89.2h.9M432.8 102.0h.9M426.2 116.4h.9M432.9 100.4h.9M433.8 106.6h.9M435.1 105.2h.9M433.7 95.6h.9M430.3 106.1h.9M430.4 98.7h.9M424.6 111.1h.9M432.1 100.3h.9M430.3 99.9h.9M428.9 105.7h.9M429.4 110.1h.9M431.4 105.2h.9M433.7 110.5h.9M434.5 103.5h.9M431.3 99.6h.9M430.6 109.2h.9M432.9 100.9h.9M426.5 98.8h.9M433.3 109.3h.9M433.5 94.5h.9M431.1 106.0h.9M428.2 108.9h.9M431.2 99.5h.9M426.9 112.8h.9M433.5 97.5h.9M427.8 112.5h.9M434.4 100.3h.9M438.5 97.3h.9M427.7 113.9h.9M431.2 106.7h.9M432.2 97.8h.9M427.1 106.5h.9M437.7 93.6h.9M437.6 101.2h.9M427.5 109.0h.9M434.3 96.8h.9M423.3 112.7h.9M427.5 110.1h.9M424.2 109.0h.9M428.7 97.5h.9M431.0 105.8h.9M429.7 98.5h.9M432.9 92.7h.9M434.2 105.3h.9M438.9 104.2h.9M433.4 104.5h.9M432.1 95.9h.9M438.0 102.7h.9M430.8 97.9h.9M438.1 102.7h.9M427.2 111.7h.9M439.7 98.1h.9M433.6 100.2h.9M429.4 112.4h.9M444.6 95.3h.9M431.5 109.2h.9M430.8 109.4h.9M435.4 95.3h.9M427.6 106.8h.9M435.4 103.1h.9M437.1 91.8h.9M434.0 98.7h.9M432.4 105.6h.9M428.0 105.6h.9M427.3 109.2h.9M428.5 103.6h.9M432.9 99.4h.9M436.7 96.6h.9M435.5 103.1h.9M427.8 105.8h.9M428.6 104.4h.9M430.9 115.9h.9M430.3 114.8h.9M433.8 94.7h.9M422.6 115.2h.9M423.9 114.4h.9M436.2 103.2h.9M431.1 103.1h.9M433.1 101.4h.9M429.8 103.4h.9M436.8 96.7h.9M433.5 95.9h.9M429.1 97.9h.9M431.2 108.7h.9M433.2 100.1h.9M434.5 100.0h.9M433.5 104.5h.9M434.2 87.4h.9M426.7 112.7h.9M431.6 117.9h.9M431.0 101.4h.9M438.1 102.8h.9M439.7 101.3h.9M431.2 109.0h.9M428.8 103.7h.9M429.7 104.3h.9M435.2 98.7h.9M433.3 100.0h.9M435.6 84.6h.9M431.2 105.7h.9M427.6 113.4h.9M432.9 111.1h.9M435.9 104.9h.9M431.4 97.9h.9M431.1 101.9h.9M433.0 100.4h.9M444.4 85.0h.9M436.8 97.6h.9M431.0 110.3h.9M432.0 96.7h.9M433.7 101.6h.9M423.6 111.5h.9M427.7 102.7h.9M434.0 104.3h.9M430.8 118.0h.9M433.7 99.0h.9M433.0 102.5h.9M423.1 101.2h.9M426.4 120.7h.9M431.3 102.9h.9M429.7 111.6h.9M432.1 114.2h.9M435.2 111.5h.9M431.5 106.6h.9M430.2 104.3h.9M425.0 105.8h.9M428.1 103.0h.9M436.9 101.9h.9M437.0 105.5h.9M435.7 107.3h.9M429.5 110.7h.9M430.7 101.8h.9M436.8 113.4h.9M428.0 117.4h.9M435.4 96.4h.9M433.1 105.4h.9M433.5 100.7h.9M426.8 108.1h.9M435.5 106.1h.9M434.7 108.6h.9M428.0 106.8h.9M433.4 109.0h.9M432.6 106.6h.9M432.5 116.2h.9M423.2 110.5h.9M442.0 97.9h.9M424.6 110.4h.9M426.2 104.3h.9M432.9 113.6h.9M433.9 106.6h.9M436.1 102.1h.9M428.5 106.0h.9M433.4 101.3h.9M429.3 103.9h.9M425.9 102.4h.9M431.6 102.1h.9M432.2 112.3h.9M433.2 102.9h.9M427.3 101.1h.9M433.5 97.6h.9M433.7 96.2h.9M432.5 103.2h.9M436.0 98.6h.9M430.5 106.6h.9M432.2 114.0h.9M431.0 101.6h.9M430.7 107.8h.9M432.9 107.5h.9M426.4 123.1h.9M439.4 98.2h.9M427.1 108.6h.9M433.7 89.3h.9M432.1 95.1h.9M433.9 110.9h.9M436.2 91.8h.9M437.6 105.3h.9M430.5 108.1h.9M438.1 97.4h.9M431.9 100.7h.9M436.7 87.5h.9M437.7 93.9h.9M435.7 91.4h.9M428.2 103.2h.9M435.3 91.7h.9M434.4 98.4h.9M437.0 98.4h.9M434.0 101.5h.9M439.2 96.4h.9M431.9 116.0h.9M432.3 107.9h.9M429.0 107.4h.9M422.8 111.5h.9M429.4 96.9h.9M426.3 115.2h.9M433.7 93.6h.9M439.3 94.3h.9M430.5 106.6h.9M427.4 97.7h.9M429.0 113.4h.9M435.8 91.6h.9M436.9 100.6h.9M434.0 102.8h.9M433.7 96.7h.9M428.3 102.5h.9M430.5 108.8h.9M427.1 117.3h.9M429.4 102.4h.9M434.8 104.5h.9M430.6 98.6h.9M428.0 97.4h.9M436.6 107.1h.9M439.6 101.3h.9M433.3 107.5h.9M435.8 99.6h.9M433.4 115.9h.9M425.2 100.7h.9M428.1 111.5h.9M436.8 98.4h.9M434.7 101.7h.9M433.2 99.8h.9M431.9 104.1h.9M436.6 114.0h.9M424.7 112.7h.9M432.0 109.8h.9M436.3 105.5h.9M435.3 95.8h.9M425.1 119.2h.9M436.9 94.6h.9M437.2 104.1h.9M422.1 116.9h.9M428.0 114.0h.9M429.2 101.6h.9M425.8 107.4h.9M436.1 96.9h.9M424.5 122.6h.9M439.5 102.6h.9M429.8 98.3h.9M425.4 112.3h.9M437.3 93.7h.9M432.0 102.3h.9M431.0 107.8h.9M440.5 93.8h.9M435.4 108.0h.9M430.8 104.0h.9M426.6 114.6h.9M429.9 101.7h.9M432.3 98.6h.9M427.8 105.4h.9M438.0 98.2h.9M434.1 93.6h.9M424.1 120.9h.9M430.4 95.9h.9M431.6 108.0h.9M425.0 103.9h.9M433.1 97.7h.9M435.2 107.4h.9M433.8 100.1h.9M431.8 100.3h.9M431.5 106.3h.9M430.8 110.8h.9M442.5 92.8h.9M433.4 107.9h.9M434.6 100.6h.9M430.1 111.5h.9M434.5 105.2h.9M428.7 110.3h.9M435.2 100.5h.9M434.6 115.1h.9M424.4 113.4h.9M427.2 99.3h.9M431.0 108.0h.9M432.2 96.8h.9M426.2 105.0h.9M432.1 98.9h.9M425.9 119.2h.9M428.6 105.6h.9M429.8 102.1h.9M432.2 102.1h.9M434.5 95.0h.9M426.0 120.3h.9M431.7 108.9h.9M436.8 103.8h.9M432.1 94.5h.9M425.5 114.8h.9M434.8 105.4h.9M425.3 96.2h.9M427.7 100.1h.9M432.6 97.3h.9M438.4 95.4h.9M429.7 110.9h.9M433.3 97.5h.9M435.3 113.1h.9M427.0 106.2h.9M427.6 95.5h.9M434.6 106.3h.9M436.0 103.6h.9M423.8 110.0h.9M429.3 98.9h.9M427.5 112.0h.9M430.8 116.8h.9M433.9 91.0h.9M435.6 108.9h.9M432.1 96.5h.9M439.2 90.6h.9M431.7 92.7h.9M426.9 97.5h.9M436.4 107.8h.9M430.3 97.0h.9M431.8 106.5h.9M425.8 101.6h.9M431.6 108.6h.9M432.3 106.5h.9M426.9 92.7h.9M433.3 97.5h.9M431.5 102.1h.9M434.0 97.8h.9M437.9 99.8h.9M434.2 106.2h.9M436.3 103.3h.9M424.8 105.5h.9M439.6 101.2h.9M434.3 105.1h.9M429.4 101.8h.9M429.3 113.1h.9M433.5 113.8h.9M434.0 114.0h.9M433.9 95.4h.9M439.2 100.7h.9M436.9 101.6h.9M430.7 106.0h.9M427.4 100.1h.9M428.3 103.5h.9M426.4 107.6h.9M433.3 115.5h.9M439.6 98.0h.9M435.6 99.9h.9M433.6 102.6h.9M429.8 106.1h.9M425.9 111.3h.9M430.8 98.2h.9M430.5 108.5h.9M429.2 109.0h.9M434.4 111.8h.9M427.5 106.7h.9M434.1 111.6h.9M433.1 107.8h.9M425.9 105.0h.9M438.9 97.1h.9M440.9 92.8h.9M430.8 95.0h.9M434.6 103.7h.9M440.4 98.8h.9M431.0 96.1h.9M431.7 110.1h.9M435.1 109.3h.9M435.6 101.0h.9M434.5 103.2h.9M426.5 118.7h.9M433.6 96.3h.9M433.6 104.6h.9M436.1 109.8h.9M419.4 116.9h.9M438.4 93.4h.9M424.3 111.5h.9M433.4 105.1h.9M427.4 104.6h.9M432.8 108.0h.9M441.1 99.0h.9M429.5 91.3h.9M436.5 99.8h.9M431.8 96.1h.9M437.2 85.0h.9M433.2 104.5h.9M434.4 113.7h.9M431.9 105.3h.9M438.0 86.4h.9M430.6 106.0h.9M438.7 92.4h.9M437.7 103.3h.9M422.9 98.7h.9M423.3 112.3h.9M433.8 109.2h.9M437.8 95.2h.9M439.4 105.7h.9M435.5 105.8h.9M424.2 113.5h.9M425.8 98.9h.9M430.2 106.9h.9M432.2 101.4h.9M426.0 110.6h.9M427.7 95.6h.9M433.1 116.1h.9M429.9 96.9h.9M441.4 111.9h.9M430.6 103.6h.9M433.4 111.9h.9M435.4 86.1h.9M425.4 98.9h.9M435.3 102.8h.9M444.1 92.8h.9M434.5 103.1h.9M433.4 123.3h.9M434.3 115.3h.9M440.9 92.3h.9M436.9 97.3h.9M433.2 104.8h.9M432.6 99.8h.9M442.6 94.0h.9M437.1 115.0h.9M436.6 109.7h.9M441.5 106.5h.9M443.6 83.1h.9M445.2 94.5h.9M421.2 107.2h.9M423.5 110.8h.9M422.8 102.7h.9M434.4 103.9h.9M427.3 106.0h.9M431.9 105.1h.9M432.5 102.1h.9M438.2 85.7h.9M429.3 107.6h.9M429.9 101.2h.9M429.7 108.0h.9M440.6 96.2h.9M430.8 108.4h.9M430.9 88.5h.9M434.2 99.4h.9M428.8 112.3h.9M432.8 98.9h.9M418.4 100.0h.9M432.6 102.9h.9M435.3 103.7h.9M429.4 95.4h.9M425.4 108.3h.9M425.0 116.3h.9M423.9 95.1h.9M431.2 89.6h.9M443.1 87.3h.9M432.2 102.1h.9M427.2 92.8h.9M420.4 120.8h.9M439.1 117.6h.9M423.0 116.2h.9M432.4 111.4h.9M429.2 112.8h.9M438.3 104.8h.9M441.9 95.3h.9M442.5 90.2h.9M443.3 71.9h.9M432.6 97.0h.9M432.5 112.9h.9M437.2 101.2h.9M443.6 82.7h.9M427.2 121.1h.9M434.6 84.4h.9M434.7 92.0h.9M442.1 106.5h.9M428.9 117.9h.9M427.1 116.1h.9M436.3 100.0h.9M423.3 108.7h.9M417.6 110.6h.9M420.5 123.8h.9M426.2 87.8h.9M436.3 104.3h.9M429.2 124.9h.9M437.5 100.7h.9M428.3 81.6h.9M435.6 109.9h.9M428.7 94.7h.9M432.2 89.7h.9M432.5 110.6h.9M442.3 98.7h.9M433.8 109.5h.9M441.6 94.2h.9M424.5 103.3h.9M424.3 102.6h.9M431.7 107.6h.9M433.5 103.8h.9M430.2 109.5h.9M438.3 106.2h.9M442.2 94.0h.9M430.9 119.9h.9M433.8 106.6h.9M430.3 114.1h.9M429.9 97.3h.9M432.1 100.5h.9M437.9 96.6h.9M433.3 101.5h.9M434.7 96.8h.9M439.7 86.1h.9M430.0 99.8h.9M436.7 101.1h.9M435.7 98.7h.9M427.8 97.9h.9M430.3 101.0h.9M434.3 105.7h.9M438.9 98.2h.9M427.6 98.6h.9M432.9 106.8h.9M445.2 95.8h.9M443.9 111.4h.9M425.7 119.7h.9M439.9 110.0h.9M432.4 112.3h.9M429.4 105.8h.9M432.6 119.3h.9M431.1 113.3h.9M432.9 97.5h.9M434.1 108.5h.9M427.9 113.1h.9M427.9 100.0h.9M433.9 100.9h.9M426.1 94.8h.9M432.7 106.0h.9M429.5 107.9h.9M422.6 115.0h.9M435.2 104.3h.9M428.5 107.8h.9M433.3 112.6h.9M434.3 104.8h.9M427.8 115.1h.9M440.1 93.9h.9M436.7 103.5h.9M432.2 93.1h.9M443.9 79.1h.9M434.5 99.2h.9M439.9 94.6h.9M432.8 109.1h.9M435.5 97.2h.9M436.9 104.0h.9M438.9 94.6h.9M432.2 100.8h.9M427.1 110.4h.9M435.2 114.2h.9M430.4 109.0h.9M439.9 97.3h.9M432.9 104.8h.9M428.0 98.9h.9M439.7 99.9h.9M432.0 93.6h.9M433.3 113.5h.9M425.0 102.0h.9M439.7 110.8h.9M442.6 91.5h.9M436.4 94.5h.9M435.9 98.3h.9M433.8 114.6h.9M434.7 100.2h.9M432.9 106.0h.9M429.2 108.3h.9M436.4 114.5h.9M419.2 104.0h.9M424.5 117.7h.9M448.3 93.5h.9M433.3 113.2h.9M416.7 114.6h.9M412.4 120.8h.9M429.2 102.4h.9M434.7 97.3h.9M439.7 98.5h.9M435.0 123.9h.9M429.6 114.2h.9M427.2 118.8h.9M438.7 100.4h.9M438.9 112.9h.9M441.4 97.2h.9M432.1 113.8h.9M423.0 106.1h.9M435.6 106.5h.9M444.5 109.9h.9M434.6 106.2h.9M424.0 108.9h.9M434.2 100.8h.9M432.9 108.9h.9M426.4 103.8h.9M421.1 122.6h.9M425.7 94.6h.9M437.5 98.4h.9M438.7 96.1h.9M446.2 99.6h.9M433.5 104.2h.9M431.2 111.9h.9M445.4 90.5h.9M425.5 114.5h.9M439.4 85.9h.9M428.1 98.9h.9M436.1 105.6h.9M427.8 98.0h.9M436.9 83.0h.9M436.6 99.5h.9M444.8 103.0h.9M428.8 104.5h.9M430.7 99.1h.9M433.0 111.8h.9M422.8 109.5h.9M442.1 103.0h.9M427.3 101.1h.9M427.0 94.5h.9M439.9 98.9h.9M428.0 95.2h.9M430.0 101.5h.9M443.5 91.6h.9M433.2 112.6h.9M436.8 99.2h.9M436.3 97.4h.9M431.9 96.3h.9M426.8 95.8h.9M435.7 105.9h.9M433.6 109.8h.9M435.9 102.4h.9M426.9 113.4h.9M440.1 103.5h.9M440.5 93.8h.9M426.2 119.5h.9M428.8 108.9h.9M431.3 105.1h.9M430.8 100.7h.9M433.8 86.6h.9M426.7 98.9h.9M427.8 86.0h.9M436.2 115.1h.9M430.9 111.5h.9M436.3 90.5h.9M440.3 83.7h.9M428.8 103.8h.9M440.5 98.8h.9M431.7 97.8h.9M433.1 103.9h.9M437.2 112.3h.9M437.2 100.5h.9M431.5 118.3h.9M433.8 102.9h.9M443.9 108.5h.9M436.1 100.3h.9M428.5 116.2h.9M429.6 114.4h.9M427.5 108.7h.9M435.1 103.3h.9M434.0 106.1h.9M425.4 100.1h.9M431.6 120.0h.9M431.7 96.8h.9M428.3 107.5h.9M440.0 93.4h.9M436.1 102.8h.9M430.2 97.7h.9M431.5 98.6h.9M435.9 86.5h.9M439.7 104.9h.9M436.2 113.8h.9M436.3 86.6h.9M432.8 107.5h.9M428.2 97.8h.9M435.2 106.2h.9M429.8 104.0h.9M429.3 101.7h.9M432.1 113.4h.9M422.3 109.0h.9M442.7 98.8h.9M433.5 110.3h.9M426.1 98.7h.9M422.0 99.8h.9M434.1 110.0h.9M429.9 100.3h.9M435.1 107.2h.9M434.1 86.7h.9M429.0 85.3h.9M434.0 95.6h.9M428.3 119.9h.9M440.9 101.6h.9M434.2 104.1h.9M428.8 106.4h.9M444.6 87.3h.9M428.3 108.6h.9M438.1 106.7h.9M426.4 107.6h.9M430.8 94.9h.9M433.0 99.6h.9M438.3 103.2h.9M427.6 108.5h.9M430.2 100.4h.9M429.4 115.3h.9M429.9 91.6h.9M427.6 114.6h.9M446.1 84.7h.9M430.3 103.0h.9M423.6 114.2h.9M432.2 106.6h.9M446.7 90.9h.9M437.5 107.2h.9M428.5 102.1h.9M442.3 102.5h.9M433.4 94.1h.9M438.1 104.1h.9M446.4 105.7h.9M437.6 102.3h.9M432.9 99.1h.9M434.5 104.6h.9M436.6 110.0h.9M434.5 97.9h.9M437.6 113.2h.9M427.2 111.6h.9M436.0 105.9h.9M435.7 100.8h.9M431.9 118.7h.9M443.4 83.8h.9M416.5 120.0h.9M428.2 102.9h.9M422.4 114.7h.9M432.2 99.7h.9M438.2 120.1h.9M441.8 106.7h.9M429.9 111.5h.9M432.3 113.9h.9M436.2 100.9h.9M436.0 95.3h.9M437.5 112.8h.9M430.2 110.4h.9M422.0 120.0h.9M438.0 91.1h.9M443.5 96.5h.9M421.6 100.9h.9M438.0 97.5h.9M439.5 85.6h.9M431.9 112.7h.9M428.2 113.0h.9M430.2 108.6h.9M434.5 121.2h.9M424.7 116.6h.9M440.8 88.2h.9M433.0 123.0h.9M439.1 73.9h.9M431.0 90.8h.9M434.4 96.4h.9M429.0 99.7h.9M434.4 98.6h.9M426.8 106.5h.9M435.1 94.8h.9M439.5 84.6h.9M435.1 98.7h.9M442.4 90.9h.9M428.3 95.9h.9M445.0 99.6h.9M425.7 106.4h.9M426.5 121.5h.9M435.1 84.8h.9M433.8 110.7h.9M432.5 108.0h.9M431.8 106.3h.9M433.8 97.0h.9M434.7 103.7h.9M432.3 98.4h.9M426.1 111.0h.9M437.7 79.6h.9M429.1 118.0h.9M438.3 93.6h.9M441.0 89.1h.9M427.5 124.2h.9M429.7 104.3h.9M422.1 103.5h.9M425.1 108.6h.9M420.9 121.9h.9M430.3 100.6h.9M428.5 113.3h.9M442.2 93.1h.9M442.7 109.7h.9M441.0 100.0h.9M423.1 116.9h.9M429.9 107.6h.9M420.6 110.8h.9M434.0 95.0h.9M434.4 116.7h.9M434.0 97.1h.9M447.6 74.3h.9M426.7 111.9h.9M428.8 87.5h.9M434.1 109.7h.9M427.5 120.2h.9M435.7 111.6h.9M422.8 111.4h.9M442.6 113.2h.9M440.8 97.6h.9M433.7 97.8h.9M439.5 92.8h.9M433.3 86.0h.9M432.9 105.5h.9M418.6 114.4h.9M445.6 81.3h.9M417.4 114.2h.9M429.1 104.8h.9M424.5 98.7h.9M424.7 115.4h.9M432.2 111.2h.9M425.7 114.3h.9M429.7 106.9h.9M438.4 99.7h.9M430.3 91.6h.9M432.9 110.3h.9M428.5 106.5h.9M421.3 101.3h.9M435.1 113.0h.9M430.5 91.4h.9M430.1 92.6h.9M430.7 121.7h.9M434.4 101.2h.9M439.1 95.7h.9M434.6 104.1h.9M435.3 89.3h.9M437.0 108.0h.9M418.0 92.2h.9M426.8 121.1h.9M432.6 109.7h.9M436.0 108.8h.9M428.4 102.2h.9M434.9 107.3h.9M436.2 104.1h.9M429.4 115.8h.9M435.5 110.7h.9M416.9 117.8h.9M428.3 108.3h.9M429.5 103.7h.9M433.7 106.0h.9M427.4 86.4h.9M427.5 112.5h.9M427.1 111.8h.9M430.1 97.8h.9M440.0 112.4h.9M431.8 104.1h.9M438.6 87.9h.9M426.9 118.0h.9M438.3 95.3h.9M427.5 110.8h.9M423.5 106.7h.9M431.0 84.1h.9M436.3 107.6h.9M439.4 86.4h.9M424.2 103.4h.9M426.2 106.1h.9M433.8 106.9h.9M441.8 87.5h.9M438.2 100.9h.9M425.0 111.1h.9M423.5 124.9h.9M427.8 116.3h.9M440.9 92.2h.9M426.7 109.6h.9M425.7 116.9h.9M433.6 96.6h.9M428.1 113.6h.9M427.4 106.2h.9M426.5 122.6h.9M437.8 111.1h.9M436.7 101.5h.9M443.5 101.3h.9M435.3 106.8h.9M437.3 102.7h.9M431.4 91.1h.9M445.8 82.5h.9M418.6 108.6h.9M445.0 104.9h.9M428.6 109.3h.9M432.3 87.0h.9M430.3 108.2h.9M440.1 87.8h.9M417.9 101.6h.9M434.6 103.0h.9M433.5 104.5h.9M430.1 94.0h.9M435.4 105.1h.9M436.2 111.9h.9M424.5 90.0h.9M426.6 112.0h.9M432.4 110.4h.9M431.4 99.7h.9M434.1 107.3h.9M426.2 120.2h.9M439.9 102.1h.9M431.8 102.5h.9M421.8 117.9h.9M426.2 104.5h.9M439.0 91.1h.9M429.1 114.0h.9M444.6 88.7h.9M439.7 92.8h.9M435.0 106.3h.9M425.1 118.6h.9M444.2 95.5h.9M434.3 92.5h.9M444.1 95.6h.9M424.2 117.0h.9M423.0 105.4h.9M446.9 87.5h.9M428.3 102.3h.9M428.8 111.6h.9M442.0 88.0h.9M435.4 86.2h.9M442.4 95.6h.9M427.9 120.8h.9M431.8 116.4h.9M439.5 113.0h.9M427.3 108.5h.9M434.9 100.5h.9M442.4 90.2h.9M439.0 110.8h.9M419.8 105.4h.9M426.6 103.8h.9M435.0 100.5h.9M433.0 99.6h.9M432.0 108.6h.9M437.3 93.5h.9M431.8 98.0h.9M431.3 92.5h.9M438.7 105.0h.9M431.7 98.7h.9M429.5 100.5h.9M424.9 114.8h.9M436.4 87.3h.9M420.0 118.3h.9M429.3 107.2h.9M432.5 99.2h.9M431.6 102.1h.9M440.6 97.0h.9M432.3 99.6h.9M428.4 100.8h.9M432.6 119.9h.9M439.7 100.5h.9M443.3 104.4h.9M433.8 101.5h.9M425.4 111.6h.9M430.4 91.9h.9M433.9 107.2h.9M433.8 99.0h.9M435.5 111.1h.9M430.5 110.0h.9M439.2 94.7h.9M433.6 96.7h.9M436.4 97.8h.9M440.0 91.7h.9M443.5 92.9h.9M427.0 100.4h.9M436.8 93.3h.9M444.2 106.1h.9M435.9 89.1h.9M432.3 97.8h.9M420.7 116.7h.9M446.8 88.4h.9M437.8 111.1h.9M426.3 105.9h.9M434.2 106.7h.9M425.1 111.6h.9M431.8 112.8h.9M422.1 107.1h.9M429.2 103.8h.9M437.2 94.9h.9M450.3 84.2h.9M438.0 108.6h.9M438.8 97.4h.9M427.1 105.9h.9M436.8 101.7h.9M436.3 106.1h.9M426.8 100.3h.9M441.9 92.6h.9M427.1 100.1h.9M438.8 89.4h.9M426.8 117.4h.9M433.3 103.8h.9M428.3 105.3h.9M429.2 106.3h.9M437.5 89.1h.9M426.5 90.5h.9M442.3 95.8h.9M432.4 103.6h.9M439.0 101.8h.9M438.0 98.3h.9M431.7 104.1h.9M420.4 122.8h.9M422.2 103.3h.9M436.9 101.1h.9M437.8 114.7h.9M444.6 106.7h.9M431.0 122.9h.9M426.8 107.7h.9M439.0 97.2h.9M431.7 101.5h.9M441.4 75.8h.9M440.8 106.8h.9M432.0 109.2h.9M426.2 118.4h.9M441.6 96.5h.9M430.3 101.5h.9M431.3 94.1h.9M432.4 108.9h.9M434.5 106.6h.9M422.6 103.4h.9M436.6 109.5h.9M425.1 104.7h.9M425.6 115.0h.9M434.7 102.6h.9M428.3 110.2h.9M432.7 97.4h.9M434.7 96.6h.9M438.7 104.7h.9M428.0 112.5h.9M432.9 97.6h.9M426.6 94.2h.9M425.2 112.7h.9M440.3 92.5h.9M433.5 106.2h.9M437.6 103.9h.9M440.5 104.5h.9M427.5 111.2h.9M417.3 114.2h.9M432.6 108.9h.9M430.5 112.7h.9M441.1 90.1h.9M429.0 109.0h.9M435.7 102.8h.9M437.9 89.6h.9M437.5 110.2h.9M439.7 102.1h.9M431.0 108.6h.9M432.0 90.6h.9M428.6 106.7h.9M429.1 98.5h.9M431.0 101.9h.9M432.9 103.2h.9M433.6 111.7h.9M433.4 106.8h.9M424.6 84.6h.9M429.9 111.9h.9M430.3 100.3h.9M424.4 117.9h.9M429.1 108.8h.9M439.9 103.0h.9M447.1 91.6h.9M438.7 105.2h.9M428.2 107.7h.9M428.8 98.0h.9M434.4 95.8h.9M443.4 89.2h.9M429.0 107.5h.9M429.1 107.1h.9M428.5 94.7h.9M416.8 104.9h.9M442.4 100.2h.9M433.5 99.2h.9M431.6 107.3h.9M423.5 104.0h.9M426.7 119.4h.9M425.6 119.4h.9M432.0 104.7h.9M441.3 104.8h.9M438.6 90.0h.9M439.9 112.9h.9M431.8 100.3h.9M425.4 118.3h.9M434.4 102.6h.9M424.5 124.2h.9M438.2 99.5h.9M442.1 88.4h.9M438.2 90.9h.9M441.7 94.6h.9M440.4 94.3h.9M435.1 111.9h.9M426.6 109.3h.9M427.1 115.6h.9M428.6 103.8h.9M431.2 115.1h.9M425.7 109.0h.9M430.4 100.9h.9M427.4 106.6h.9M433.8 89.6h.9M434.0 92.6h.9M432.6 123.7h.9M426.2 108.3h.9M430.8 113.8h.9M429.4 90.9h.9M422.0 113.6h.9M434.1 112.0h.9M429.0 112.5h.9M425.6 120.5h.9M432.0 98.5h.9M433.7 118.2h.9M427.0 97.5h.9M425.9 99.1h.9M432.2 107.3h.9M431.4 106.5h.9M440.2 95.6h.9M424.4 90.5h.9M434.1 96.9h.9M430.9 108.8h.9M435.5 88.1h.9M426.3 109.4h.9M431.6 114.7h.9M429.2 88.6h.9M440.1 84.0h.9M426.2 112.2h.9M434.0 107.4h.9M436.0 95.1h.9M440.7 83.1h.9M428.7 109.4h.9M433.4 95.0h.9M442.8 108.8h.9M426.4 111.9h.9M428.4 103.4h.9M438.9 100.2h.9M431.8 105.4h.9M424.9 120.4h.9M427.6 119.1h.9M429.5 102.3h.9M442.2 98.2h.9M428.3 102.6h.9M436.4 117.2h.9M436.5 97.5h.9M425.2 103.8h.9M431.7 106.7h.9M428.2 118.4h.9M426.3 102.6h.9M435.7 105.7h.9M430.0 114.3h.9M446.7 110.0h.9M433.3 120.4h.9M432.8 115.2h.9M431.2 106.7h.9M435.9 86.3h.9M431.1 119.9h.9M413.5 121.9h.9M438.5 102.2h.9M433.8 115.0h.9M434.7 85.9h.9M426.4 106.2h.9M433.4 99.4h.9M431.8 119.0h.9M438.6 104.5h.9M432.6 104.5h.9M434.9 104.3h.9M427.8 114.4h.9M427.1 107.8h.9M430.2 95.8h.9M436.4 100.4h.9M424.9 109.1h.9M423.6 123.3h.9M435.9 118.6h.9M428.8 112.9h.9M426.2 101.5h.9M431.9 108.0h.9M438.5 97.1h.9M439.7 106.8h.9M426.8 106.8h.9M426.6 123.3h.9M428.9 114.4h.9M438.4 97.2h.9M429.3 109.4h.9M427.5 96.9h.9M426.2 111.7h.9M433.7 118.3h.9M420.7 117.4h.9M425.0 119.7h.9M437.0 101.6h.9M442.0 93.4h.9M429.1 97.6h.9M428.3 108.3h.9M436.9 111.7h.9M430.8 99.0h.9M430.3 102.0h.9M429.5 102.9h.9M426.9 107.9h.9M429.2 105.1h.9M423.5 112.1h.9M436.2 106.7h.9M429.0 96.9h.9M424.1 100.4h.9M428.3 104.5h.9M421.1 118.6h.9M422.6 105.7h.9M427.8 114.7h.9M444.4 91.8h.9M430.7 102.0h.9M431.2 103.5h.9M448.4 82.4h.9M431.8 97.8h.9M434.8 97.8h.9M436.2 91.9h.9M446.1 95.3h.9M421.1 118.8h.9M429.5 96.4h.9M435.3 97.4h.9M437.3 95.7h.9M438.3 100.8h.9M434.8 103.6h.9M430.2 102.7h.9M435.4 107.8h.9M443.4 85.8h.9M439.5 98.0h.9M434.0 96.1h.9M443.1 88.8h.9M432.0 98.2h.9M444.9 105.2h.9M424.0 106.7h.9M434.8 98.5h.9M430.2 96.6h.9M434.1 93.4h.9M437.8 120.4h.9M430.4 119.6h.9M434.9 96.5h.9M430.3 97.5h.9M433.2 109.4h.9M438.5 97.0h.9M424.8 109.3h.9M443.2 98.2h.9M432.1 86.6h.9M429.7 110.8h.9M426.4 120.2h.9M428.9 99.4h.9M428.8 106.1h.9M438.9 94.3h.9M421.1 112.1h.9M435.8 114.6h.9M425.3 122.2h.9M436.8 104.6h.9M427.6 100.3h.9M426.4 116.7h.9M433.9 112.0h.9M444.1 95.2h.9M432.2 120.5h.9M424.2 106.6h.9M430.1 102.6h.9M433.4 96.2h.9M439.9 86.7h.9M427.3 93.7h.9M423.5 115.9h.9M436.5 99.3h.9M437.9 105.1h.9M428.8 106.5h.9M434.8 119.3h.9M429.7 109.3h.9M436.0 111.7h.9M435.2 111.0h.9M425.7 107.0h.9M420.1 113.1h.9M447.4 94.6h.9M433.1 105.9h.9M433.4 92.1h.9M428.1 106.0h.9M433.6 95.9h.9M431.8 98.4h.9M424.1 105.0h.9M427.4 115.1h.9M441.1 102.4h.9M431.1 100.4h.9M422.5 107.3h.9M442.5 106.1h.9M433.9 100.9h.9M432.5 107.6h.9M432.5 107.7h.9M427.6 108.2h.9M430.3 114.9h.9M424.6 121.1h.9M432.0 100.2h.9M432.6 105.0h.9M431.0 108.8h.9M428.8 92.6h.9M436.9 100.4h.9M443.1 99.1h.9M419.7 124.4h.9M428.1 112.1h.9M446.7 102.4h.9M425.5 108.7h.9M422.2 117.6h.9M436.1 92.6h.9M435.4 109.7h.9M437.7 94.4h.9M428.1 98.0h.9M424.2 113.1h.9M432.8 114.9h.9M434.3 100.0h.9M423.4 124.1h.9M433.6 103.0h.9M426.1 100.2h.9M436.5 92.8h.9M436.2 106.5h.9M430.1 92.3h.9M435.1 113.9h.9M427.2 97.5h.9M439.5 99.9h.9M428.5 117.5h.9M430.7 109.2h.9M429.9 99.7h.9M433.9 95.8h.9M421.2 108.2h.9M440.4 107.3h.9M446.4 101.8h.9M442.8 98.3h.9M429.7 110.1h.9M426.4 114.9h.9M429.6 108.5h.9M427.1 107.1h.9M438.8 97.4h.9M428.2 109.8h.9M438.1 98.2h.9M425.0 96.7h.9M424.0 119.6h.9M431.9 108.5h.9M439.3 101.2h.9M435.6 97.5h.9M422.2 117.3h.9M431.9 109.4h.9M425.7 108.1h.9M445.3 87.2h.9M433.1 114.6h.9M431.0 106.3h.9M418.9 121.0h.9M429.7 117.0h.9M431.9 101.4h.9M435.3 100.0h.9M429.2 119.5h.9M438.8 100.2h.9M437.7 107.0h.9M436.2 101.6h.9M433.0 107.2h.9M436.1 104.3h.9M429.0 106.2h.9M435.4 93.6h.9M432.4 110.5h.9M433.6 100.9h.9M432.4 100.2h.9M438.8 96.2h.9M421.9 102.2h.9M434.4 104.4h.9M429.5 95.5h.9M431.6 97.9h.9M428.3 107.3h.9M427.6 110.5h.9M427.8 103.9h.9M431.1 117.4h.9M442.5 104.3h.9M427.8 107.8h.9M438.3 106.4h.9M422.1 111.6h.9M427.8 114.0h.9M436.6 96.5h.9M446.1 91.3h.9M448.0 90.8h.9M432.0 120.3h.9M429.2 102.8h.9M441.9 96.6h.9M435.5 91.4h.9M443.9 103.5h.9M434.8 108.2h.9M429.3 102.7h.9M422.5 114.9h.9M440.4 105.2h.9M438.4 105.5h.9M426.6 97.8h.9M436.6 102.4h.9M438.8 97.0h.9M426.9 112.1h.9M429.0 93.3h.9M428.6 99.9h.9M425.4 105.0h.9M438.5 118.9h.9M443.5 92.3h.9M439.8 98.0h.9M435.1 96.6h.9M432.0 90.7h.9M443.9 89.1h.9M436.2 96.4h.9M434.2 93.1h.9M430.1 113.5h.9M436.3 85.2h.9M437.9 89.2h.9M434.3 107.0h.9M428.4 104.7h.9M430.9 108.6h.9M438.3 110.9h.9M434.6 119.0h.9M426.5 123.4h.9M430.8 111.7h.9M431.7 105.4h.9M426.7 111.8h.9M445.4 95.5h.9M432.4 104.3h.9M437.0 99.0h.9M432.5 105.9h.9M440.8 105.6h.9M425.8 104.1h.9M432.6 111.0h.9M438.7 97.7h.9M446.0 92.4h.9M441.4 109.0h.9M442.7 98.0h.9M436.2 88.7h.9M421.2 107.8h.9M437.1 109.4h.9M431.8 113.2h.9M436.2 113.8h.9M422.4 105.1h.9M426.4 100.2h.9M443.0 88.5h.9M427.2 104.9h.9M438.1 96.0h.9M437.2 105.1h.9M428.4 87.8h.9M426.7 98.4h.9M442.9 90.2h.9M425.7 112.5h.9M432.8 96.2h.9M439.5 106.3h.9M434.3 96.5h.9M426.9 91.5h.9M434.9 105.5h.9M426.6 108.8h.9M421.6 117.5h.9M429.8 102.2h.9M436.5 100.0h.9M438.8 103.5h.9M439.9 99.4h.9M421.7 121.0h.9M434.1 91.5h.9M432.9 111.0h.9M426.0 109.5h.9M427.8 99.5h.9M428.6 117.6h.9M436.9 100.5h.9M432.0 105.6h.9M434.3 104.2h.9M421.6 120.1h.9M427.0 86.9h.9M437.0 90.7h.9M431.6 104.0h.9M428.7 111.4h.9M430.8 103.1h.9M426.4 106.5h.9M425.9 109.5h.9M440.9 105.9h.9M435.2 90.8h.9M439.1 106.7h.9M445.7 75.4h.9M432.6 101.3h.9M439.4 89.8h.9M438.9 82.8h.9M432.6 115.3h.9M428.6 112.0h.9M433.1 91.6h.9M428.5 116.5h.9M440.1 93.3h.9M439.7 92.7h.9M434.1 102.7h.9M424.5 112.9h.9M430.0 83.4h.9M427.2 101.2h.9M427.2 100.1h.9M428.1 87.2h.9M438.2 100.3h.9M434.1 100.6h.9M432.9 101.6h.9M425.5 96.9h.9M433.0 112.1h.9M434.0 116.2h.9M423.8 108.6h.9M428.6 117.3h.9M443.3 91.4h.9M437.2 98.5h.9M426.1 108.1h.9M425.8 122.0h.9M436.3 111.0h.9M434.8 82.2h.9M437.6 100.9h.9M417.3 116.6h.9M439.0 113.2h.9M426.0 115.6h.9M434.6 101.0h.9M430.7 109.8h.9M436.2 106.7h.9M429.9 95.1h.9M440.9 108.3h.9M428.9 106.6h.9M437.7 85.5h.9M435.7 121.6h.9M434.2 96.9h.9M445.6 94.1h.9M433.9 99.5h.9M433.7 88.3h.9M424.3 98.1h.9M438.3 98.8h.9M439.9 81.5h.9M428.7 119.1h.9M427.4 92.5h.9M427.7 104.8h.9M432.4 114.9h.9M441.0 110.4h.9M436.2 97.0h.9M429.3 94.2h.9M440.6 108.2h.9M433.1 96.2h.9M436.8 104.8h.9M433.5 93.6h.9M434.0 98.1h.9M437.2 105.3h.9M435.3 98.3h.9M442.2 103.0h.9M440.6 104.7h.9M436.7 104.0h.9M425.7 94.2h.9M426.5 113.7h.9M438.3 101.1h.9M433.1 118.8h.9M430.0 91.2h.9M422.6 108.9h.9M437.0 106.7h.9M431.1 111.9h.9M432.2 98.2h.9M430.1 112.1h.9M438.6 90.0h.9M426.2 109.9h.9M446.1 83.9h.9M424.5 113.6h.9M435.7 96.4h.9M432.3 108.2h.9M421.4 112.4h.9M436.3 108.7h.9M439.9 97.7h.9M423.3 122.2h.9M437.4 94.9h.9M439.1 107.6h.9M431.6 85.1h.9M429.5 100.0h.9M427.2 107.4h.9M425.6 112.5h.9M444.5 84.9h.9M439.1 94.5h.9M436.0 100.3h.9M440.7 91.8h.9M437.2 94.0h.9M434.0 102.8h.9M439.4 85.6h.9M423.9 122.2h.9M435.0 116.2h.9M425.9 110.8h.9M436.3 115.7h.9M432.2 100.5h.9M437.1 99.7h.9M427.7 114.0h.9M420.4 104.9h.9M441.2 93.2h.9M430.4 108.7h.9M439.6 102.9h.9M426.4 104.0h.9M439.2 97.9h.9M428.5 114.3h.9M439.8 116.5h.9M425.7 103.4h.9M428.1 110.3h.9M429.5 115.6h.9M428.4 104.9h.9M436.1 102.9h.9M426.1 121.4h.9M436.2 97.1h.9M433.8 93.8h.9M424.7 107.5h.9M434.8 103.1h.9M427.6 96.3h.9M434.8 95.6h.9M440.0 102.7h.9M429.9 100.9h.9M439.7 101.2h.9M442.9 99.0h.9M428.8 101.9h.9M428.0 109.5h.9M434.1 107.8h.9M435.4 93.1h.9M431.2 97.2h.9M435.6 90.7h.9M428.8 99.7h.9M428.6 104.9h.9M442.1 94.5h.9M423.4 108.5h.9M437.2 105.0h.9M434.0 119.4h.9M439.5 99.4h.9M440.2 87.0h.9M431.4 97.6h.9M433.6 116.6h.9M429.4 119.6h.9M426.0 120.8h.9M421.8 105.2h.9M438.8 98.4h.9M433.4 103.2h.9M433.6 101.6h.9M426.3 106.3h.9M433.2 96.0h.9M435.5 116.4h.9M422.1 107.5h.9M430.7 105.5h.9M433.1 97.5h.9M432.3 104.2h.9M432.0 117.2h.9M433.3 91.1h.9M422.6 116.5h.9M430.3 100.5h.9M423.9 108.0h.9M431.9 98.7h.9M430.3 113.1h.9M437.5 104.7h.9M431.4 93.6h.9M437.4 112.7h.9M440.6 107.5h.9M434.3 105.8h.9M432.4 114.5h.9M430.8 123.1h.9M437.4 97.6h.9M432.5 90.6h.9M427.9 105.1h.9M448.0 85.3h.9M438.3 100.2h.9M430.6 110.6h.9M419.9 121.5h.9M444.7 97.1h.9M432.1 105.6h.9M436.7 96.7h.9M433.3 107.6h.9M430.3 108.9h.9M434.6 108.3h.9M426.3 104.3h.9M429.8 116.0h.9M434.1 89.1h.9M434.6 91.6h.9M426.8 109.6h.9M441.5 110.5h.9M430.2 103.3h.9M444.6 86.5h.9M442.4 99.2h.9M433.1 114.2h.9M435.5 94.7h.9M422.9 111.5h.9M435.7 112.9h.9M439.1 112.0h.9M440.6 98.7h.9M437.6 102.0h.9M428.8 101.6h.9M435.1 95.1h.9M421.9 92.3h.9M438.2 102.9h.9M434.9 88.2h.9M441.0 92.6h.9M416.9 124.0h.9M438.4 93.5h.9M414.6 103.2h.9M446.2 106.8h.9M436.1 82.3h.9M430.9 98.9h.9M437.8 96.8h.9M436.9 82.7h.9M428.7 116.7h.9M422.0 115.2h.9M422.5 118.0h.9M418.7 111.2h.9M430.6 113.8h.9M443.7 96.8h.9M448.8 101.9h.9M430.1 92.5h.9M437.4 97.1h.9M430.1 86.4h.9M432.8 99.5h.9M442.1 90.8h.9M421.1 96.3h.9M433.7 102.6h.9M440.0 93.2h.9M438.5 99.1h.9M447.9 92.2h.9M435.2 104.9h.9M444.1 85.9h.9M430.1 99.4h.9M416.4 121.7h.9M442.9 95.6h.9M450.7 106.6h.9M441.5 82.4h.9M446.6 97.5h.9M424.1 105.6h.9M440.2 106.3h.9M435.4 94.2h.9M440.3 89.3h.9M433.4 107.7h.9M422.1 109.8h.9M417.8 99.4h.9M423.8 104.4h.9M439.9 96.5h.9M441.5 97.0h.9M432.3 105.7h.9M432.0 102.3h.9M442.6 90.0h.9M443.5 84.3h.9M432.2 84.1h.9M429.6 117.7h.9M436.9 110.8h.9M421.9 96.5h.9M437.9 106.1h.9M440.9 80.2h.9M438.2 97.1h.9M435.0 104.1h.9M431.7 84.7h.9M425.2 90.5h.9M423.1 104.3h.9M444.8 87.5h.9M427.7 92.1h.9M419.7 108.0h.9M430.0 99.7h.9M426.1 108.8h.9M424.1 110.5h.9M428.5 110.5h.9M426.7 108.1h.9M437.6 97.3h.9M447.5 94.7h.9M426.7 110.5h.9M427.2 98.3h.9M434.1 101.7h.9M448.1 75.7h.9M431.9 112.1h.9M432.7 103.8h.9M446.6 81.5h.9M434.4 107.5h.9M429.1 85.5h.9M425.7 106.2h.9M435.6 117.1h.9M445.0 79.2h.9M442.6 104.5h.9M447.4 91.6h.9M429.4 103.8h.9M446.8 99.4h.9M448.1 100.4h.9M429.1 92.7h.9M449.3 77.3h.9M431.1 98.4h.9M426.5 98.3h.9M434.1 123.1h.9M433.5 95.2h.9M435.0 108.6h.9M427.2 99.5h.9M419.5 114.3h.9M439.6 111.7h.9M441.2 93.6h.9M430.8 98.7h.9M424.0 112.7h.9M429.0 95.6h.9M438.3 98.9h.9M429.2 100.2h.9M429.9 115.2h.9M442.3 88.6h.9M433.7 113.6h.9M431.6 118.6h.9M437.7 104.6h.9M416.8 117.2h.9M436.8 104.2h.9M438.0 103.1h.9M429.8 111.0h.9M434.5 89.5h.9M425.6 105.9h.9M436.8 77.0h.9M416.9 119.1h.9M421.3 104.2h.9M429.0 108.0h.9M445.7 109.7h.9M425.6 116.4h.9M423.9 108.2h.9M435.4 105.3h.9M427.4 116.5h.9M433.4 100.1h.9M431.8 90.7h.9M440.0 100.2h.9M437.8 116.3h.9M426.8 101.0h.9M434.1 108.3h.9M432.5 109.9h.9M437.8 80.8h.9M428.3 83.1h.9M431.6 97.2h.9M438.9 99.1h.9M433.5 112.6h.9M438.9 85.4h.9M428.3 106.2h.9M448.1 90.8h.9M432.6 103.3h.9M440.5 95.8h.9M436.4 94.6h.9M429.4 94.6h.9M439.5 91.7h.9M438.6 101.6h.9M442.1 69.6h.9M426.0 92.2h.9M432.6 108.6h.9M445.3 97.9h.9M430.8 106.9h.9M415.9 118.5h.9M434.1 106.0h.9M425.5 93.7h.9M428.7 102.3h.9M436.9 95.0h.9M436.9 105.2h.9M424.4 104.0h.9M421.1 101.3h.9M441.5 89.1h.9M449.5 96.9h.9M441.4 97.2h.9M441.2 107.0h.9M434.9 94.4h.9M429.4 121.3h.9M432.5 96.3h.9M428.1 86.5h.9M429.9 105.3h.9M430.0 94.7h.9M437.4 102.7h.9M430.4 104.9h.9M425.9 112.6h.9M425.8 100.9h.9M435.1 95.3h.9M446.6 76.4h.9M435.0 87.0h.9M436.6 85.9h.9M438.8 102.7h.9M448.2 104.5h.9M430.2 111.2h.9M430.2 100.9h.9M429.8 84.9h.9M439.0 77.5h.9M432.0 106.2h.9M435.0 84.1h.9M428.6 109.5h.9M443.1 110.9h.9M418.9 112.3h.9M430.0 109.6h.9M420.0 105.9h.9M439.9 90.6h.9M431.0 91.9h.9M443.3 82.2h.9M426.4 100.7h.9M431.4 122.1h.9M436.3 90.7h.9M438.8 100.9h.9M436.3 98.2h.9M437.8 86.5h.9M424.0 101.0h.9M424.8 111.6h.9M450.1 103.8h.9M437.7 101.4h.9M428.3 90.2h.9M438.6 83.1h.9M436.5 97.3h.9M440.2 97.3h.9M434.9 93.8h.9M419.7 104.0h.9M439.8 107.3h.9M445.4 84.3h.9M426.2 110.9h.9M436.6 83.7h.9M429.4 117.8h.9M418.8 109.3h.9M422.5 121.7h.9M430.3 91.8h.9M419.8 100.3h.9M412.8 106.3h.9M431.8 89.7h.9M436.8 93.9h.9M427.0 117.2h.9M437.7 89.4h.9M446.3 93.1h.9M438.2 99.3h.9M443.8 101.0h.9M431.1 108.6h.9M430.8 103.0h.9M447.6 82.5h.9M425.4 100.5h.9M429.9 114.9h.9M447.2 88.8h.9M435.5 95.7h.9M439.6 103.6h.9M440.3 104.3h.9M450.1 90.0h.9M439.8 95.2h.9M434.3 102.0h.9M433.6 103.6h.9M426.9 102.2h.9M429.0 91.1h.9M428.1 98.2h.9M432.8 85.3h.9M431.9 90.0h.9M427.2 105.4h.9M443.2 98.0h.9M429.9 97.8h.9M445.1 78.3h.9M443.5 80.3h.9M428.7 103.2h.9M432.2 117.3h.9M438.1 97.4h.9M441.9 96.3h.9M427.3 114.5h.9M446.5 106.1h.9M424.2 123.8h.9M430.5 109.4h.9M443.9 118.3h.9M420.6 96.9h.9M443.8 99.8h.9M431.4 72.5h.9M437.7 96.3h.9M413.2 105.3h.9M434.0 102.3h.9M440.3 94.1h.9M426.5 100.3h.9M416.5 98.1h.9M450.4 84.7h.9M433.3 119.0h.9M442.8 96.7h.9M440.1 94.2h.9M426.5 113.8h.9M435.1 115.2h.9M431.8 97.4h.9M436.9 96.6h.9M431.4 92.5h.9M436.1 102.1h.9M449.2 91.9h.9M419.4 112.2h.9M427.3 101.8h.9M410.2 109.0h.9M432.4 85.9h.9M438.8 88.9h.9M418.6 100.9h.9M439.3 116.2h.9M444.4 96.5h.9M429.7 99.6h.9M442.1 90.7h.9M437.5 107.7h.9M426.4 98.1h.9M437.7 98.1h.9M433.0 95.3h.9M433.5 118.6h.9M445.3 78.2h.9M434.4 100.7h.9M434.3 86.2h.9M432.9 102.0h.9M428.3 106.0h.9M413.7 95.7h.9M434.8 103.4h.9M432.6 96.2h.9M435.5 109.9h.9M441.5 95.3h.9M430.1 112.5h.9M438.5 106.4h.9M431.7 92.7h.9M435.6 93.0h.9M443.6 103.5h.9M415.8 116.0h.9M445.1 104.5h.9M430.1 93.5h.9M442.1 105.8h.9M434.5 88.4h.9M421.3 109.2h.9M427.1 96.9h.9M437.7 108.4h.9M416.8 102.3h.9M444.8 94.0h.9M431.1 107.8h.9M424.5 92.8h.9M434.2 115.3h.9M442.5 95.6h.9M442.4 91.6h.9M424.2 88.6h.9M436.3 107.7h.9M437.1 98.0h.9M430.7 112.5h.9M433.6 86.0h.9M445.4 87.7h.9M437.3 98.3h.9M442.8 97.9h.9M444.2 96.8h.9M430.2 97.0h.9M439.4 89.0h.9M441.7 93.6h.9M426.3 95.4h.9M432.8 118.1h.9M440.4 96.9h.9M426.4 122.7h.9M431.7 101.2h.9M430.5 115.0h.9M435.5 94.7h.9M435.5 89.3h.9M425.2 103.0h.9M410.0 124.1h.9M450.6 80.4h.9M432.8 85.0h.9M435.4 101.4h.9M440.2 83.6h.9M429.0 96.2h.9M431.9 123.6h.9M432.3 100.5h.9M429.8 110.1h.9M446.8 82.8h.9M442.8 95.7h.9M444.4 105.1h.9M439.5 80.6h.9M435.1 94.5h.9M437.7 98.4h.9M442.8 79.6h.9M427.8 102.5h.9M436.7 94.6h.9M433.8 100.7h.9M442.8 94.3h.9M436.0 81.0h.9M412.1 96.8h.9M437.0 75.7h.9M437.4 97.3h.9M434.0 92.8h.9M430.5 110.0h.9M437.0 98.2h.9M429.9 104.2h.9M444.0 94.7h.9M430.9 89.9h.9M434.8 90.5h.9M422.0 114.8h.9M428.8 82.5h.9M428.0 121.3h.9M433.1 87.3h.9M424.8 111.9h.9M437.4 100.4h.9M432.4 105.6h.9M446.9 98.2h.9M432.6 86.9h.9M437.7 113.6h.9M439.4 84.7h.9M435.5 112.1h.9M428.7 107.7h.9M444.1 111.0h.9M420.7 89.6h.9M437.1 105.3h.9M431.0 101.3h.9M430.6 113.7h.9M415.5 112.1h.9M423.3 98.8h.9M421.2 97.6h.9M433.8 100.4h.9M449.0 90.1h.9M436.9 102.0h.9M436.2 113.4h.9M435.2 100.9h.9M433.1 100.5h.9M433.5 110.1h.9M434.2 100.6h.9M433.6 107.7h.9M430.0 111.4h.9M429.2 109.4h.9M450.1 94.0h.9M433.3 88.7h.9M440.2 96.9h.9M441.6 89.5h.9M438.4 115.7h.9M437.4 95.0h.9M423.1 105.6h.9M439.5 103.1h.9M424.6 94.6h.9M425.8 94.1h.9M431.7 103.8h.9M450.1 93.6h.9M446.2 77.3h.9M446.9 101.2h.9M437.7 106.3h.9M439.2 116.3h.9M440.8 79.2h.9M419.3 123.6h.9M433.3 113.5h.9M431.1 95.0h.9M431.1 104.6h.9M435.6 93.0h.9M438.5 103.8h.9M426.3 92.9h.9M417.5 105.5h.9M434.1 93.0h.9M428.9 101.3h.9M434.2 105.5h.9M441.0 100.7h.9M443.4 85.5h.9M439.1 101.1h.9M425.2 97.8h.9M437.7 98.8h.9M423.5 100.0h.9M446.8 101.8h.9M434.7 113.1h.9M426.4 102.2h.9M442.0 92.5h.9M424.6 110.7h.9M447.5 67.8h.9M435.3 86.9h.9M431.5 87.2h.9M434.4 92.8h.9M425.7 99.8h.9M435.7 116.6h.9M436.4 114.3h.9M425.1 105.3h.9M430.3 86.3h.9M436.1 91.4h.9M429.2 92.2h.9M442.6 91.5h.9M432.8 102.4h.9M423.7 107.6h.9M432.6 105.2h.9M430.8 102.1h.9M438.4 107.4h.9M428.2 112.7h.9M425.7 102.4h.9M435.1 100.9h.9M413.0 101.1h.9M432.5 110.0h.9M428.1 118.1h.9M418.9 108.6h.9M438.5 97.8h.9M436.2 108.2h.9M427.2 109.4h.9M442.9 93.1h.9M414.6 98.2h.9M426.8 93.2h.9M437.6 90.1h.9M423.0 102.8h.9M450.1 95.2h.9M429.9 102.8h.9M434.2 112.1h.9M433.6 98.2h.9M442.5 87.1h.9M436.8 102.4h.9M441.9 90.6h.9M441.5 106.4h.9M445.4 94.5h.9M440.6 77.8h.9M439.1 87.5h.9M443.8 85.4h.9M441.5 82.0h.9M445.1 84.1h.9M437.8 97.1h.9M435.4 92.6h.9M446.4 105.5h.9M423.7 87.3h.9M443.3 99.0h.9M434.3 93.7h.9M436.5 112.2h.9M436.4 82.0h.9M425.7 83.6h.9M448.3 86.3h.9M441.0 96.9h.9M444.2 98.6h.9M430.3 88.9h.9M433.7 93.9h.9M436.0 81.7h.9M432.5 108.8h.9M441.0 91.0h.9M431.3 99.7h.9M437.5 106.7h.9M441.6 88.5h.9M417.1 95.8h.9M444.7 84.3h.9M445.0 96.4h.9M424.0 93.4h.9M440.5 98.0h.9M439.2 91.6h.9M435.3 90.1h.9M438.0 82.7h.9M443.1 88.0h.9M442.1 86.7h.9M441.2 92.4h.9M445.0 94.4h.9M445.4 88.9h.9M437.6 89.8h.9M428.1 93.1h.9M446.6 96.8h.9M431.3 96.1h.9M443.9 78.8h.9M440.8 94.2h.9M443.9 92.9h.9M424.2 77.6h.9M448.1 100.7h.9M438.7 81.9h.9M448.8 89.2h.9M442.1 95.2h.9M445.5 99.1h.9M426.8 82.3h.9M439.1 91.8h.9M444.1 89.4h.9M436.6 110.0h.9M448.9 99.6h.9M446.2 83.3h.9M437.3 91.5h.9M429.4 86.4h.9M439.3 81.2h.9M442.3 95.1h.9M436.1 89.5h.9M442.8 95.1h.9M440.9 80.7h.9M425.2 112.7h.9M432.8 90.0h.9M423.6 88.3h.9M432.2 100.2h.9M417.1 84.5h.9M434.7 88.5h.9M431.9 89.6h.9M425.5 97.1h.9M447.4 91.2h.9M433.8 103.9h.9M441.9 82.2h.9M433.5 87.7h.9M437.6 102.6h.9M432.4 92.0h.9M438.9 81.5h.9M434.2 98.2h.9M446.9 73.7h.9M443.6 88.2h.9M448.2 95.1h.9M434.9 85.5h.9M426.7 99.4h.9M442.1 98.2h.9M440.8 78.4h.9M434.8 90.6h.9M439.3 98.4h.9M449.2 92.0h.9M421.7 86.8h.9M421.1 89.2h.9M428.5 96.2h.9M436.3 102.1h.9M446.5 86.1h.9M445.5 90.4h.9M441.6 102.9h.9M428.9 93.5h.9M450.2 82.7h.9M439.7 92.8h.9M434.7 81.4h.9M432.6 84.7h.9M446.5 92.2h.9M443.6 80.5h.9M442.0 92.4h.9M446.3 83.9h.9M444.4 102.4h.9M429.1 81.3h.9M445.6 95.4h.9M440.7 83.9h.9M447.9 103.7h.9M437.7 91.0h.9M447.4 94.3h.9M448.6 86.1h.9M440.7 88.5h.9M433.5 90.4h.9M435.8 96.9h.9M435.6 93.2h.9M431.6 82.8h.9M449.3 81.0h.9M419.9 90.6h.9M434.7 92.9h.9M436.6 87.1h.9M447.9 88.7h.9M445.6 84.4h.9M432.6 104.7h.9M435.8 83.0h.9M436.7 101.4h.9M436.7 86.1h.9M443.0 99.4h.9M436.4 89.6h.9M435.1 116.0h.9M436.5 107.4h.9M436.8 95.8h.9M421.9 97.2h.9M438.4 89.2h.9M434.8 81.0h.9M426.2 96.1h.9M433.0 92.4h.9M436.6 88.0h.9M432.3 109.3h.9M429.3 89.6h.9M435.7 82.6h.9M430.4 101.1h.9M445.4 91.5h.9M434.8 74.0h.9M407.1 69.5h.9M405.0 82.4h.9M384.8 85.8h.9M378.9 71.8h.9M389.4 72.0h.9M398.8 69.2h.9M391.2 66.0h.9M389.6 81.4h.9M386.4 78.1h.9M405.1 68.4h.9M372.5 78.8h.9M393.9 74.1h.9M376.6 84.0h.9M374.0 76.9h.9M389.5 79.7h.9M383.9 72.7h.9M417.9 67.9h.9M401.1 73.7h.9M383.5 76.7h.9M386.5 78.0h.9M354.9 80.7h.9M391.0 71.0h.9M384.7 88.5h.9M415.6 75.7h.9M393.3 74.0h.9M409.2 71.1h.9M378.7 81.0h.9M376.7 73.9h.9M410.1 65.2h.9M389.1 76.7h.9M393.6 68.2h.9M386.9 74.8h.9M416.6 77.4h.9M379.6 81.8h.9M399.1 74.2h.9M386.7 75.1h.9M368.7 75.8h.9M403.0 81.5h.9M415.7 70.6h.9M398.6 62.7h.9M386.3 70.2h.9M401.4 66.1h.9M375.7 72.4h.9M395.5 79.5h.9M377.4 86.8h.9M392.3 71.5h.9M394.9 75.3h.9M401.6 76.1h.9M420.3 77.7h.9M381.2 81.2h.9M400.6 69.5h.9M379.7 73.4h.9M356.0 83.9h.9M387.1 82.6h.9M382.3 77.4h.9M400.1 79.5h.9M394.5 70.2h.9M420.5 76.2h.9M408.9 81.5h.9M409.5 75.4h.9M396.6 78.3h.9M369.3 82.9h.9M376.6 80.0h.9M376.1 81.5h.9M383.4 89.4h.9M392.7 78.2h.9M377.6 76.3h.9M389.3 74.7h.9M384.1 72.4h.9M400.6 72.6h.9M378.8 79.4h.9M378.9 76.7h.9M383.0 72.3h.9M387.0 72.3h.9M372.8 80.1h.9M386.0 69.2h.9M384.6 77.7h.9M396.0 77.1h.9M393.6 78.5h.9M383.3 72.9h.9M398.6 72.8h.9M390.2 79.2h.9M403.1 80.4h.9M380.6 75.4h.9M397.8 67.7h.9M372.7 81.4h.9M381.6 72.5h.9M401.2 77.1h.9M402.8 72.6h.9M386.1 74.8h.9M394.2 65.2h.9M380.6 80.9h.9M379.4 77.1h.9M391.8 78.4h.9M383.6 71.2h.9M424.5 67.7h.9M413.7 63.9h.9M391.6 74.8h.9M416.2 82.6h.9M403.6 69.1h.9M379.0 73.7h.9M383.0 78.3h.9M379.3 76.2h.9M410.4 80.4h.9M364.5 74.7h.9M385.0 83.2h.9M385.6 86.2h.9M395.2 82.5h.9M378.3 76.1h.9M404.2 76.9h.9M364.4 78.1h.9M392.6 78.8h.9M381.4 85.9h.9M392.2 83.0h.9M395.7 75.6h.9M385.7 70.8h.9M402.0 78.1h.9M403.0 72.3h.9M376.3 76.0h.9M385.8 76.5h.9M403.7 69.6h.9M383.4 80.4h.9M402.6 85.3h.9M397.4 70.8h.9M375.8 74.0h.9M391.1 77.1h.9M389.2 73.0h.9M387.6 75.9h.9M398.3 75.3h.9M379.0 71.7h.9M410.5 72.8h.9M387.7 76.2h.9M405.7 72.3h.9M392.6 74.5h.9M398.1 69.8h.9M393.0 80.7h.9M406.4 76.8h.9M394.2 83.3h.9M399.9 81.6h.9M373.7 72.8h.9M401.2 73.1h.9M384.2 72.1h.9M410.6 67.2h.9M391.6 68.8h.9M387.8 87.5h.9M423.6 68.9h.9M376.3 86.0h.9M378.4 68.7h.9M395.0 69.9h.9M370.3 84.3h.9M380.2 72.1h.9M392.5 74.7h.9M405.6 74.3h.9M412.0 78.7h.9M414.6 78.2h.9M391.2 78.6h.9M390.5 68.2h.9M374.1 81.9h.9M357.8 76.3h.9M372.6 78.1h.9M376.0 79.2h.9M387.5 74.0h.9M378.6 66.5h.9M391.2 69.4h.9M386.2 78.4h.9M404.6 77.5h.9M410.5 66.1h.9M399.5 82.5h.9M395.6 69.7h.9M395.7 72.6h.9M381.4 82.5h.9M387.8 70.7h.9M380.9 87.0h.9M378.6 80.9h.9M392.7 81.5h.9M386.4 71.8h.9M381.4 72.1h.9M425.8 72.1h.9M385.8 82.9h.9M399.2 73.8h.9M398.7 76.2h.9M405.7 82.1h.9M385.9 76.4h.9M387.7 82.4h.9M395.5 79.2h.9M402.5 71.1h.9M392.0 82.6h.9M402.9 78.3h.9M386.4 74.7h.9M378.5 76.2h.9M389.4 69.0h.9M406.1 70.0h.9M393.7 78.5h.9M382.7 68.0h.9M403.4 76.2h.9M386.8 82.1h.9M402.5 69.5h.9M389.1 67.4h.9M386.6 83.5h.9M378.8 81.7h.9M369.6 77.3h.9M403.1 82.8h.9M396.4 78.9h.9M413.7 60.6h.9M366.9 88.6h.9M423.9 74.3h.9M391.1 77.2h.9M390.6 72.9h.9M390.0 75.4h.9M399.4 78.1h.9M403.6 77.1h.9M377.0 84.7h.9M353.7 81.6h.9M394.8 72.7h.9M415.8 67.0h.9M374.3 75.7h.9M395.9 79.2h.9M391.7 79.1h.9M380.7 74.3h.9M392.0 69.0h.9M392.8 73.7h.9M399.6 69.7h.9M383.0 74.2h.9M385.2 71.7h.9M386.7 69.7h.9M397.5 78.3h.9M390.0 75.1h.9M378.1 72.9h.9M387.3 71.9h.9M403.4 75.1h.9M418.0 69.0h.9M407.9 72.8h.9M409.5 69.8h.9M420.6 77.2h.9M427.8 66.2h.9M433.5 61.4h.9M416.0 82.1h.9M448.2 69.3h.9M413.7 69.7h.9M402.9 72.8h.9M412.9 66.9h.9M433.3 64.2h.9M439.6 75.7h.9M426.3 66.6h.9M411.8 57.7h.9M421.7 69.5h.9M423.1 66.3h.9M424.3 59.9h.9M390.6 79.0h.9M431.7 46.5h.9M434.4 67.4h.9M416.2 60.6h.9M405.6 78.9h.9M408.9 72.8h.9M416.3 87.3h.9M429.4 60.6h.9M412.2 64.0h.9M400.7 69.0h.9M432.1 70.7h.9M426.7 69.9h.9M412.9 73.3h.9M417.2 86.7h.9M440.8 72.1h.9M425.8 56.0h.9M416.7 90.3h.9M408.2 79.4h.9M433.5 67.1h.9M415.4 68.9h.9M428.2 70.9h.9M437.1 78.7h.9M418.1 91.7h.9M414.3 67.8h.9M415.2 65.7h.9M412.9 72.1h.9M429.4 58.6h.9M400.6 68.3h.9M414.4 75.9h.9M408.3 84.7h.9M411.5 71.2h.9M418.9 80.8h.9M421.9 71.7h.9M411.4 74.1h.9M423.2 68.7h.9M417.9 58.1h.9M411.5 81.8h.9M436.0 69.2h.9M391.1 89.2h.9M416.0 91.8h.9M413.0 80.2h.9M410.4 83.4h.9M432.7 62.1h.9M434.4 91.7h.9M415.4 63.1h.9M421.6 68.5h.9M399.4 66.3h.9M421.2 60.0h.9M431.7 73.7h.9M415.9 82.9h.9M406.6 78.6h.9M401.2 71.6h.9M426.2 66.9h.9M416.7 77.1h.9M437.2 79.5h.9M423.9 69.3h.9M400.0 87.3h.9M441.6 52.7h.9M429.0 70.3h.9M427.0 73.3h.9M415.7 72.3h.9M417.7 80.9h.9M414.9 68.3h.9M426.3 75.9h.9M423.6 73.5h.9M436.6 78.2h.9M420.8 70.1h.9M426.4 56.7h.9M411.6 67.4h.9M420.3 68.8h.9M449.0 73.8h.9M423.2 88.5h.9M418.1 69.6h.9M433.5 76.4h.9M429.7 79.8h.9M413.6 67.5h.9M409.1 73.9h.9M430.7 62.4h.9M411.4 62.6h.9M443.1 75.0h.9M420.9 62.4h.9M405.2 68.7h.9M418.5 62.3h.9M415.3 81.6h.9M418.3 72.7h.9M391.9 73.1h.9M416.3 66.9h.9M400.8 73.6h.9M405.3 69.4h.9M398.2 73.7h.9M429.5 64.2h.9M422.2 59.9h.9M425.4 75.2h.9M413.3 79.3h.9M407.2 73.7h.9M439.2 69.2h.9M404.1 82.5h.9M424.8 69.1h.9M395.4 60.4h.9M399.1 85.7h.9M421.8 65.0h.9M432.5 81.4h.9M407.6 77.0h.9M397.6 77.4h.9M440.8 58.4h.9M418.8 67.0h.9M417.0 72.8h.9M421.6 78.4h.9M424.5 79.2h.9M430.8 78.8h.9M409.7 76.2h.9M364.5 77.4h.9M386.9 79.7h.9M368.5 72.9h.9M365.9 82.7h.9M366.1 78.3h.9M382.2 78.0h.9M364.9 79.9h.9M365.8 83.7h.9M373.6 79.4h.9M364.6 79.5h.9M384.3 77.8h.9M374.4 74.3h.9M371.2 82.1h.9M380.3 80.2h.9M373.6 80.7h.9M378.3 86.1h.9M370.0 77.1h.9M373.8 79.2h.9M374.2 82.2h.9M369.6 78.4h.9M371.0 75.6h.9M370.7 76.8h.9M372.4 80.1h.9M366.0 76.1h.9M368.6 77.7h.9M366.7 82.4h.9M377.2 75.0h.9M377.1 83.9h.9M378.9 80.2h.9M367.2 85.9h.9M365.0 75.1h.9M369.0 80.9h.9M358.2 76.6h.9M387.1 79.0h.9M375.6 77.5h.9M353.6 80.4h.9M380.9 76.9h.9M351.0 80.6h.9M365.4 80.2h.9M358.1 79.7h.9M362.9 83.3h.9M369.6 82.8h.9M367.6 72.9h.9M349.4 83.1h.9M376.5 82.3h.9M367.4 74.1h.9M363.4 81.7h.9M381.3 77.9h.9M362.7 77.8h.9M377.9 82.2h.9M350.6 85.3h.9M359.3 75.7h.9M352.9 78.6h.9M390.3 87.0h.9M356.2 78.6h.9M369.6 81.3h.9M363.5 75.0h.9M364.2 78.0h.9M351.0 81.7h.9M354.1 75.2h.9M386.6 107.3h.9M386.0 100.9h.9M368.2 99.3h.9M359.0 105.8h.9M374.7 97.6h.9M354.2 99.1h.9M387.7 111.3h.9M380.5 97.3h.9M373.4 104.3h.9M374.0 108.2h.9M365.7 81.9h.9M348.9 92.9h.9M358.9 105.2h.9M382.4 100.0h.9M377.3 100.6h.9M373.8 96.3h.9M368.2 109.3h.9M369.5 99.7h.9M383.6 107.7h.9M368.4 102.0h.9M362.4 101.0h.9M375.1 100.0h.9M373.7 102.9h.9M347.9 93.6h.9M372.8 96.2h.9M362.9 98.1h.9M387.5 98.2h.9M365.9 96.3h.9M360.7 103.8h.9M362.7 107.1h.9M419.4 109.0h.9M422.1 98.7h.9M363.2 99.0h.9M413.7 75.8h.9M374.5 117.1h.9M409.5 121.1h.9M414.3 101.0h.9M409.3 113.3h.9M399.7 96.7h.9M406.9 95.1h.9M451.1 88.0h.9M368.3 79.8h.9M422.3 93.7h.9M403.6 96.6h.9M406.1 77.3h.9M402.1 91.0h.9M423.2 109.7h.9M373.7 84.9h.9M412.3 118.7h.9M416.5 97.6h.9M423.8 63.1h.9M388.9 84.8h.9M378.5 108.8h.9M406.1 104.4h.9M397.5 109.7h.9M416.8 91.0h.9M420.1 85.5h.9M437.6 79.6h.9M394.2 83.1h.9M401.1 120.6h.9M430.2 106.0h.9M387.8 114.2h.9M420.7 99.4h.9M372.0 96.6h.9M362.9 102.5h.9M427.1 89.5h.9M390.6 81.0h.9M416.6 113.0h.9M412.8 103.9h.9M421.4 98.1h.9M415.5 112.8h.9M352.7 85.7h.9M370.2 47.7h.9M412.7 116.7h.9M347.9 96.2h.9M407.0 74.0h.9M390.3 27.6h.9M383.1 77.5h.9M381.4 123.4h.9M381.9 108.9h.9M430.8 104.0h.9M397.7 75.2h.9M434.2 38.0h.9M369.9 27.8h.9M397.6 70.7h.9M445.9 117.3h.9M388.7 74.9h.9M357.4 99.9h.9M400.5 42.9h.9" stroke="#000" stroke-width="0.9" fill="none" opacity="0.8"/>
<rect x="344.5" y="24.5" width="108.0" height="101.5" fill="none" stroke="#333" stroke-width="1"/>
<line x1="391.5" y1="24.5" x2="391.5" y2="126" stroke="#555" stroke-width="1"/>
<line x1="344.5" y1="86.5" x2="452.5" y2="86.5" stroke="#555" stroke-width="1"/>
<text x="346.2" y="135" font-size="8.5" text-anchor="middle">10<tspan dy="-3" font-size="5.5">0</tspan></text>
<text x="373.2" y="135" font-size="8.5" text-anchor="middle">10<tspan dy="-3" font-size="5.5">1</tspan></text>
<text x="400.1" y="135" font-size="8.5" text-anchor="middle">10<tspan dy="-3" font-size="5.5">2</tspan></text>
<text x="426.9" y="135" font-size="8.5" text-anchor="middle">10<tspan dy="-3" font-size="5.5">3</tspan></text>
<text x="451.8" y="135" font-size="8.5" text-anchor="middle">10<tspan dy="-3" font-size="5.5">4</tspan></text>
<text transform="translate(340,124.4) rotate(-90)" font-size="8.5" text-anchor="middle">10<tspan dy="-3" font-size="5.5">0</tspan></text>
<text transform="translate(340,99.60000000000001) rotate(-90)" font-size="8.5" text-anchor="middle">10<tspan dy="-3" font-size="5.5">1</tspan></text>
<text transform="translate(340,74.80000000000001) rotate(-90)" font-size="8.5" text-anchor="middle">10<tspan dy="-3" font-size="5.5">2</tspan></text>
<text transform="translate(340,50.0) rotate(-90)" font-size="8.5" text-anchor="middle">10<tspan dy="-3" font-size="5.5">3</tspan></text>
<text transform="translate(340,25.200000000000003) rotate(-90)" font-size="8.5" text-anchor="middle">10<tspan dy="-3" font-size="5.5">4</tspan></text>
<text x="398.5" y="148.5" font-size="10.5" text-anchor="middle">Gr1</text>
<text transform="translate(330.5,78) rotate(-90)" font-size="10.5" text-anchor="middle">F4/80</text>
<text x="4.6" y="177.3" font-size="13.8" text-anchor="start" class="b">D</text>
<text x="42.4" y="180.5" font-size="9.7" text-anchor="middle" class="i">WT</text>
<text x="91.5" y="180.5" font-size="9.6" text-anchor="start" class="i">Nogo-A/B<tspan dy="-3.6" font-size="6">-/-</tspan></text>
<line x1="5.3" y1="184.6" x2="73" y2="184.6" stroke="#222" stroke-width="1.1"/>
<line x1="79" y1="184.6" x2="146.5" y2="184.6" stroke="#222" stroke-width="1.1"/>
<rect x="5" y="190" width="141.5" height="11.3" fill="#c8c8c8"/>
<rect x="5" y="207.2" width="141.5" height="7.6" fill="#dedede"/>
<rect x="5" y="217.8" width="141.5" height="8.8" fill="#cdcdcd"/>
<rect x="5" y="232.5" width="141.5" height="29.3" fill="#b6b6b6"/>
<rect x="5" y="269.5" width="141.5" height="10.8" fill="#cbcbcb"/>
<rect x="7.7" y="194.6" width="12.5" height="3.8" rx="1.9" fill="#0a0a0a" opacity="1" filter="url(#bl)"/>
<rect x="25.0" y="194.6" width="13" height="3.8" rx="1.9" fill="#0a0a0a" opacity="1" filter="url(#bl)"/>
<rect x="43.1" y="191.6" width="12" height="8" rx="2.2" fill="#0a0a0a" opacity="1" filter="url(#bl)"/>
<rect x="60.8" y="194.8" width="12" height="3.4" rx="1.7" fill="#0a0a0a" opacity="1" filter="url(#bl)"/>
<rect x="78.1" y="194.4" width="12.5" height="4.2" rx="2.1" fill="#0a0a0a" opacity="1" filter="url(#bl)"/>
<rect x="95.8" y="194.7" width="12.5" height="3.6" rx="1.8" fill="#0a0a0a" opacity="1" filter="url(#bl)"/>
<rect x="113.4" y="194.5" width="12.5" height="4" rx="2.0" fill="#0a0a0a" opacity="1" filter="url(#bl)"/>
<rect x="130.7" y="194.4" width="13" height="4.2" rx="2.1" fill="#0a0a0a" opacity="1" filter="url(#bl)"/>
<rect x="7.7" y="208.8" width="12.5" height="4" rx="2.0" fill="#0a0a0a" opacity="1" filter="url(#bl)"/>
<rect x="25.3" y="209.3" width="12.5" height="3" rx="1.5" fill="#0a0a0a" opacity="1" filter="url(#bl)"/>
<rect x="42.9" y="209.7" width="12.5" height="2.2" rx="1.1" fill="#0a0a0a" opacity="1" filter="url(#bl)"/>
<rect x="60.5" y="209.8" width="12.5" height="2" rx="1.0" fill="#0a0a0a" opacity="1" filter="url(#bl)"/>
<rect x="78.1" y="209.7" width="12.5" height="2.2" rx="1.1" fill="#0a0a0a" opacity="1" filter="url(#bl)"/>
<rect x="95.8" y="209.6" width="12.5" height="2.4" rx="1.2" fill="#0a0a0a" opacity="1" filter="url(#bl)"/>
<rect x="113.4" y="209.1" width="12.5" height="3.4" rx="1.7" fill="#0a0a0a" opacity="1" filter="url(#bl)"/>
<rect x="131.0" y="209.6" width="12.5" height="2.4" rx="1.2" fill="#0a0a0a" opacity="1" filter="url(#bl)"/>
<rect x="6.8" y="222.3" width="16.5" height="4.0" rx="2.0" fill="#0a0a0a" opacity="1" filter="url(#bl)"/>
<rect x="7.5" y="218.7" width="15" height="3" rx="1.5" fill="#0a0a0a" opacity="1" filter="url(#bl)"/>
<rect x="24.2" y="222.3" width="16.5" height="4.0" rx="2.0" fill="#0a0a0a" opacity="1" filter="url(#bl)"/>
<rect x="25.0" y="218.7" width="15" height="3" rx="1.5" fill="#0a0a0a" opacity="1" filter="url(#bl)"/>
<rect x="41.1" y="222.3" width="16.5" height="4.0" rx="2.0" fill="#0a0a0a" opacity="1" filter="url(#bl)"/>
<rect x="42.9" y="219.4" width="13" height="1.6" rx="0.8" fill="#0a0a0a" opacity="0.45" filter="url(#bl)"/>
<rect x="58.2" y="222.3" width="16.5" height="4.0" rx="2.0" fill="#0a0a0a" opacity="1" filter="url(#bl)"/>
<rect x="60.0" y="219.4" width="13" height="1.6" rx="0.8" fill="#0a0a0a" opacity="0.45" filter="url(#bl)"/>
<rect x="9.5" y="234" width="14" height="26.5" fill="#888" opacity="0.45" filter="url(#bl2)"/>
<rect x="9.8" y="234.1" width="13.5" height="3.0" rx="1.5" fill="#222" opacity="1" filter="url(#bl)"/>
<rect x="10.0" y="240.0" width="13" height="2" rx="1.0" fill="#666" opacity="0.3" filter="url(#bl2)"/>
<rect x="10.0" y="245.5" width="13" height="2" rx="1.0" fill="#777" opacity="0.25" filter="url(#bl2)"/>
<rect x="9.0" y="251.5" width="15" height="2.4" rx="1.2" fill="#555" opacity="0.6" filter="url(#bl2)"/>
<rect x="8.8" y="256.7" width="15.5" height="2.6" rx="1.3" fill="#444" opacity="0.75" filter="url(#bl2)"/>
<rect x="26.3" y="234" width="14" height="26.5" fill="#888" opacity="0.45" filter="url(#bl2)"/>
<rect x="26.5" y="234.1" width="13.5" height="3.0" rx="1.5" fill="#222" opacity="1" filter="url(#bl)"/>
<rect x="26.8" y="240.0" width="13" height="2" rx="1.0" fill="#666" opacity="0.3" filter="url(#bl2)"/>
<rect x="26.8" y="245.5" width="13" height="2" rx="1.0" fill="#777" opacity="0.25" filter="url(#bl2)"/>
<rect x="25.8" y="251.5" width="15" height="2.4" rx="1.2" fill="#555" opacity="0.6" filter="url(#bl2)"/>
<rect x="25.5" y="256.7" width="15.5" height="2.6" rx="1.3" fill="#444" opacity="0.75" filter="url(#bl2)"/>
<rect x="43.1" y="234" width="14" height="26.5" fill="#888" opacity="0.45" filter="url(#bl2)"/>
<rect x="43.4" y="234.1" width="13.5" height="3.0" rx="1.5" fill="#222" opacity="1" filter="url(#bl)"/>
<rect x="43.6" y="240.0" width="13" height="2" rx="1.0" fill="#666" opacity="0.3" filter="url(#bl2)"/>
<rect x="43.6" y="245.5" width="13" height="2" rx="1.0" fill="#777" opacity="0.25" filter="url(#bl2)"/>
<rect x="42.6" y="251.5" width="15" height="2.4" rx="1.2" fill="#555" opacity="0.6" filter="url(#bl2)"/>
<rect x="42.4" y="256.7" width="15.5" height="2.6" rx="1.3" fill="#444" opacity="0.75" filter="url(#bl2)"/>
<rect x="59.9" y="234" width="14" height="26.5" fill="#888" opacity="0.45" filter="url(#bl2)"/>
<rect x="60.2" y="234.1" width="13.5" height="3.0" rx="1.5" fill="#222" opacity="1" filter="url(#bl)"/>
<rect x="60.4" y="240.0" width="13" height="2" rx="1.0" fill="#666" opacity="0.3" filter="url(#bl2)"/>
<rect x="60.4" y="245.5" width="13" height="2" rx="1.0" fill="#777" opacity="0.25" filter="url(#bl2)"/>
<rect x="59.4" y="251.5" width="15" height="2.4" rx="1.2" fill="#555" opacity="0.6" filter="url(#bl2)"/>
<rect x="59.2" y="256.7" width="15.5" height="2.6" rx="1.3" fill="#444" opacity="0.75" filter="url(#bl2)"/>
<rect x="76.7" y="234" width="14" height="26.5" fill="#888" opacity="0.45" filter="url(#bl2)"/>
<rect x="77.0" y="234.1" width="13.5" height="3.0" rx="1.5" fill="#222" opacity="1" filter="url(#bl)"/>
<rect x="77.2" y="240.0" width="13" height="2" rx="1.0" fill="#666" opacity="0.3" filter="url(#bl2)"/>
<rect x="77.2" y="245.5" width="13" height="2" rx="1.0" fill="#777" opacity="0.25" filter="url(#bl2)"/>
<rect x="76.2" y="251.5" width="15" height="2.4" rx="1.2" fill="#555" opacity="0.6" filter="url(#bl2)"/>
<rect x="76.0" y="256.7" width="15.5" height="2.6" rx="1.3" fill="#444" opacity="0.75" filter="url(#bl2)"/>
<rect x="93.5" y="234" width="14" height="26.5" fill="#888" opacity="0.45" filter="url(#bl2)"/>
<rect x="93.8" y="234.1" width="13.5" height="3.0" rx="1.5" fill="#222" opacity="1" filter="url(#bl)"/>
<rect x="94.0" y="240.0" width="13" height="2" rx="1.0" fill="#666" opacity="0.3" filter="url(#bl2)"/>
<rect x="94.0" y="245.5" width="13" height="2" rx="1.0" fill="#777" opacity="0.25" filter="url(#bl2)"/>
<rect x="93.0" y="251.5" width="15" height="2.4" rx="1.2" fill="#555" opacity="0.6" filter="url(#bl2)"/>
<rect x="92.8" y="256.7" width="15.5" height="2.6" rx="1.3" fill="#444" opacity="0.75" filter="url(#bl2)"/>
<rect x="110.3" y="234" width="14" height="26.5" fill="#888" opacity="0.45" filter="url(#bl2)"/>
<rect x="110.6" y="234.1" width="13.5" height="3.0" rx="1.5" fill="#222" opacity="1" filter="url(#bl)"/>
<rect x="110.8" y="240.0" width="13" height="2" rx="1.0" fill="#666" opacity="0.3" filter="url(#bl2)"/>
<rect x="110.8" y="245.5" width="13" height="2" rx="1.0" fill="#777" opacity="0.25" filter="url(#bl2)"/>
<rect x="109.8" y="251.5" width="15" height="2.4" rx="1.2" fill="#555" opacity="0.6" filter="url(#bl2)"/>
<rect x="109.6" y="256.7" width="15.5" height="2.6" rx="1.3" fill="#444" opacity="0.75" filter="url(#bl2)"/>
<rect x="127.1" y="234" width="14" height="26.5" fill="#888" opacity="0.45" filter="url(#bl2)"/>
<rect x="127.4" y="234.1" width="13.5" height="3.0" rx="1.5" fill="#222" opacity="1" filter="url(#bl)"/>
<rect x="127.6" y="240.0" width="13" height="2" rx="1.0" fill="#666" opacity="0.3" filter="url(#bl2)"/>
<rect x="127.6" y="245.5" width="13" height="2" rx="1.0" fill="#777" opacity="0.25" filter="url(#bl2)"/>
<rect x="126.6" y="251.5" width="15" height="2.4" rx="1.2" fill="#555" opacity="0.6" filter="url(#bl2)"/>
<rect x="126.4" y="256.7" width="15.5" height="2.6" rx="1.3" fill="#444" opacity="0.75" filter="url(#bl2)"/>
<rect x="8.2" y="272.8" width="14.5" height="3.4" rx="1.7" fill="#0a0a0a" opacity="1" filter="url(#bl)"/>
<rect x="25.2" y="272.8" width="14.5" height="3.4" rx="1.7" fill="#0a0a0a" opacity="1" filter="url(#bl)"/>
<rect x="42.2" y="272.8" width="14.5" height="3.4" rx="1.7" fill="#0a0a0a" opacity="1" filter="url(#bl)"/>
<rect x="59.2" y="272.8" width="14.5" height="3.4" rx="1.7" fill="#0a0a0a" opacity="1" filter="url(#bl)"/>
<rect x="76.2" y="272.8" width="14.5" height="3.4" rx="1.7" fill="#0a0a0a" opacity="1" filter="url(#bl)"/>
<rect x="93.2" y="272.8" width="14.5" height="3.4" rx="1.7" fill="#0a0a0a" opacity="1" filter="url(#bl)"/>
<rect x="110.2" y="272.8" width="14.5" height="3.4" rx="1.7" fill="#0a0a0a" opacity="1" filter="url(#bl)"/>
<rect x="127.2" y="272.8" width="14.5" height="3.4" rx="1.7" fill="#0a0a0a" opacity="1" filter="url(#bl)"/>
<text x="148" y="200.8" font-size="9.5" text-anchor="start" class="b">iNOS</text>
<text x="148" y="213.1" font-size="9.5" text-anchor="start" class="b">COX-2</text>
<text x="148" y="225.3" font-size="9.5" text-anchor="start" class="b">Nogo-B</text>
<text x="148" y="237.8" font-size="9.5" text-anchor="start" class="b">caspase-3</text>
<text x="153.5" y="254.7" font-size="9.4" text-anchor="start" class="b">cleaved</text>
<text x="153.5" y="262.4" font-size="9.4" text-anchor="start" class="b">caspase-3</text>
<text x="148" y="276.3" font-size="9.4" text-anchor="start" class="b">HSP-90</text>
<path d="M149.3 253.3h2.1v7.8h-2.1" stroke="#111" stroke-width="1.3" fill="none"/>
<text x="213" y="171.6" font-size="13.5" text-anchor="start" class="b">E</text>
<rect x="276.2" y="163.5" width="18.5" height="4.8" fill="#fff" stroke="#222" stroke-width="1"/>
<text x="297.2" y="169" font-size="8.5" text-anchor="start" class="i">WT</text>
<rect x="276.2" y="175.0" width="18.5" height="4.8" fill="#222" stroke="#222" stroke-width="1"/>
<text x="297.2" y="180.5" font-size="8.5" text-anchor="start" class="i">Nogo-A/B<tspan dy="-3.3" font-size="6.5"> -/-</tspan></text>
<rect x="276.2" y="186.3" width="18.5" height="4.8" fill="url(#dots)" stroke="#555" stroke-width="1"/>
<text x="297.2" y="191.8" font-size="8.5" text-anchor="start" class="i">WT</text>
<rect x="276.2" y="197.5" width="18.5" height="4.8" fill="#4a4a4a" stroke="#222" stroke-width="1"/>
<text x="297.2" y="203" font-size="8.5" text-anchor="start" class="i">Nogo-A/B<tspan dy="-3.3" font-size="6.5"> -/-</tspan></text>
<line x1="236.5" y1="185.5" x2="236.5" y2="297.5" stroke="#222" stroke-width="1"/>
<line x1="233.5" y1="297.5" x2="310" y2="297.5" stroke="#222" stroke-width="1"/>
<line x1="233.5" y1="297.5" x2="236.5" y2="297.5" stroke="#222" stroke-width="1"/>
<text x="231.7" y="300.9" font-size="9.0" text-anchor="end">0</text>
<line x1="233.5" y1="260.5" x2="236.5" y2="260.5" stroke="#222" stroke-width="1"/>
<text x="231.7" y="263.9" font-size="9.0" text-anchor="end">2</text>
<line x1="233.5" y1="223.5" x2="236.5" y2="223.5" stroke="#222" stroke-width="1"/>
<text x="231.7" y="226.9" font-size="9.0" text-anchor="end">4</text>
<line x1="233.5" y1="185.5" x2="236.5" y2="185.5" stroke="#222" stroke-width="1"/>
<text x="231.7" y="188.9" font-size="9.0" text-anchor="end">6</text>
<line x1="245.5" y1="200.5" x2="245.5" y2="207.5" stroke="#222" stroke-width="1"/>
<line x1="241.5" y1="200.5" x2="249.5" y2="200.5" stroke="#222" stroke-width="1"/>
<rect x="238.5" y="207.5" width="14.0" height="90.0" fill="#fff" stroke="#222" stroke-width="1"/>
<line x1="264.5" y1="211.5" x2="264.5" y2="213.5" stroke="#222" stroke-width="1"/>
<line x1="260.5" y1="211.5" x2="268.5" y2="211.5" stroke="#222" stroke-width="1"/>
<rect x="257.5" y="213.5" width="14.0" height="84.0" fill="#222" stroke="#222" stroke-width="1"/>
<line x1="283.5" y1="236.5" x2="283.5" y2="246.5" stroke="#222" stroke-width="1"/>
<line x1="279.5" y1="236.5" x2="287.5" y2="236.5" stroke="#222" stroke-width="1"/>
<rect x="275.5" y="246.5" width="15.0" height="51.0" fill="url(#dots)" stroke="#555" stroke-width="1"/>
<line x1="301.5" y1="233.5" x2="301.5" y2="238.5" stroke="#222" stroke-width="1"/>
<line x1="297.5" y1="233.5" x2="305.5" y2="233.5" stroke="#222" stroke-width="1"/>
<rect x="294.5" y="238.5" width="14.0" height="59.0" fill="#4a4a4a" stroke="#222" stroke-width="1"/>
<text x="283.2" y="235.1" font-size="7.5" text-anchor="middle" class="b">*</text>
<text x="300.9" y="231.6" font-size="7.5" text-anchor="middle" class="b">*</text>
<text x="301" y="222" font-size="8.5" text-anchor="middle">#</text>
<text transform="translate(219.9,297.3) rotate(-90)" font-size="10.1" class="b">Total cells (10<tspan dx="2.4" dy="-5.5" font-size="8.3">6</tspan><tspan dx="0.6" dy="5.5">)/pouch</tspan></text>
<line x1="238" y1="301.5" x2="270" y2="301.5" stroke="#222" stroke-width="1"/>
<line x1="277" y1="301.5" x2="310" y2="301.5" stroke="#222" stroke-width="1"/>
<text x="255.5" y="314.3" font-size="9" text-anchor="middle" class="i">WT</text>
<text x="272.5" y="314.3" font-size="8.8" text-anchor="start" class="i">Nogo-A/B<tspan dy="-3.3" font-size="6.5"> -/-</tspan></text>
<line x1="320" y1="312.2" x2="331.5" y2="312.2" stroke="#111" stroke-width="1"/>
<path d="M334.8 312.2l-4.2 -2v4z" fill="#111"/>
<text x="338.8" y="314.3" font-size="8.5" text-anchor="start">Host</text>
<text x="370" y="173" font-size="13.5" text-anchor="start" class="b">F</text>
<rect x="436.2" y="166.5" width="18.5" height="4.8" fill="#fff" stroke="#222" stroke-width="1"/>
<text x="457.2" y="172" font-size="8.5" text-anchor="start" class="i">WT</text>
<rect x="436.2" y="177.5" width="18.5" height="4.8" fill="#222" stroke="#222" stroke-width="1"/>
<text x="457.2" y="183" font-size="8.5" text-anchor="start" class="i">Nogo-A/B<tspan dy="-3.3" font-size="6.5"> -/-</tspan></text>
<rect x="436.2" y="189.0" width="18.5" height="4.8" fill="url(#dots)" stroke="#555" stroke-width="1"/>
<text x="457.2" y="194.5" font-size="8.5" text-anchor="start" class="i">WT</text>
<rect x="436.2" y="200.0" width="18.5" height="4.8" fill="#4a4a4a" stroke="#222" stroke-width="1"/>
<text x="457.2" y="205.5" font-size="8.5" text-anchor="start" class="i">Nogo-A/B<tspan dy="-3.3" font-size="6.5"> -/-</tspan></text>
<line x1="395.5" y1="188.5" x2="395.5" y2="300.5" stroke="#222" stroke-width="1"/>
<line x1="392.5" y1="300.5" x2="470" y2="300.5" stroke="#222" stroke-width="1"/>
<line x1="392.5" y1="300.5" x2="395.5" y2="300.5" stroke="#222" stroke-width="1"/>
<text x="390.7" y="303.9" font-size="9.0" text-anchor="end">0</text>
<line x1="392.5" y1="262.5" x2="395.5" y2="262.5" stroke="#222" stroke-width="1"/>
<text x="390.7" y="265.9" font-size="9.0" text-anchor="end">10</text>
<line x1="392.5" y1="225.5" x2="395.5" y2="225.5" stroke="#222" stroke-width="1"/>
<text x="390.7" y="228.9" font-size="9.0" text-anchor="end">20</text>
<line x1="392.5" y1="188.5" x2="395.5" y2="188.5" stroke="#222" stroke-width="1"/>
<text x="390.7" y="191.9" font-size="9.0" text-anchor="end">30</text>
<line x1="405.5" y1="212.5" x2="405.5" y2="221.5" stroke="#222" stroke-width="1"/>
<line x1="401.5" y1="212.5" x2="409.5" y2="212.5" stroke="#222" stroke-width="1"/>
<rect x="398.5" y="221.5" width="14.0" height="79.0" fill="#fff" stroke="#222" stroke-width="1"/>
<line x1="424.5" y1="200.5" x2="424.5" y2="214.5" stroke="#222" stroke-width="1"/>
<line x1="420.5" y1="200.5" x2="428.5" y2="200.5" stroke="#222" stroke-width="1"/>
<rect x="417.5" y="214.5" width="14.0" height="86.0" fill="#222" stroke="#222" stroke-width="1"/>
<line x1="443.5" y1="243.5" x2="443.5" y2="246.5" stroke="#222" stroke-width="1"/>
<line x1="439.5" y1="243.5" x2="447.5" y2="243.5" stroke="#222" stroke-width="1"/>
<rect x="435.5" y="246.5" width="15.0" height="54.0" fill="url(#dots)" stroke="#555" stroke-width="1"/>
<line x1="461.5" y1="255.5" x2="461.5" y2="265.5" stroke="#222" stroke-width="1"/>
<line x1="457.5" y1="255.5" x2="465.5" y2="255.5" stroke="#222" stroke-width="1"/>
<rect x="454.5" y="265.5" width="14.0" height="35.0" fill="#4a4a4a" stroke="#222" stroke-width="1"/>
<text x="443.3" y="237.5" font-size="7.5" text-anchor="middle" class="b">*</text>
<text x="460.9" y="254.1" font-size="7.5" text-anchor="middle" class="b">*</text>
<text x="443.2" y="227.6" font-size="8.5" text-anchor="middle">#</text>
<text transform="translate(376.4,299.8) rotate(-90)" font-size="10.1" class="b">Total cells (10<tspan dx="2.4" dy="-5.5" font-size="8.3">6</tspan><tspan dx="0.6" dy="5.5">)/pouch</tspan></text>
<line x1="398" y1="304.5" x2="430" y2="304.5" stroke="#222" stroke-width="1"/>
<line x1="437" y1="304.5" x2="470" y2="304.5" stroke="#222" stroke-width="1"/>
<text x="415.5" y="316.7" font-size="9" text-anchor="middle" class="i">WT</text>
<text x="432.5" y="316.7" font-size="8.8" text-anchor="start" class="i">Nogo-A/B<tspan dy="-3.3" font-size="6.5"> -/-</tspan></text>
<line x1="480" y1="314.59999999999997" x2="491.5" y2="314.59999999999997" stroke="#111" stroke-width="1"/>
<path d="M494.8 314.59999999999997l-4.2 -2v4z" fill="#111"/>
<text x="498.8" y="316.7" font-size="8.5" text-anchor="start">Host</text>
</svg>
</body></html>
